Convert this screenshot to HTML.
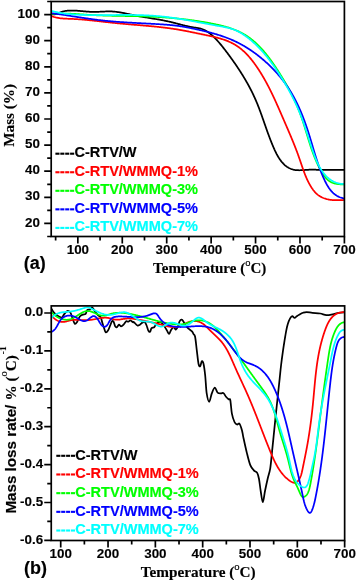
<!DOCTYPE html><html><head><meta charset="utf-8"><style>html,body{margin:0;padding:0;background:#fff;}svg{display:block;will-change:transform;}text{stroke:#000;stroke-width:0.15px;}.t{stroke-width:0.12px;}.s{font-family:"Liberation Sans",sans-serif;font-weight:bold;}.r{font-family:"Liberation Serif",serif;font-weight:bold;}</style></head><body>
<svg width="357" height="580" viewBox="0 0 357 580">
<rect x="0" y="0" width="357" height="580" fill="#fff"/>
<clipPath id="ca"><rect x="51.20" y="1.50" width="293.20" height="235.00"/></clipPath>
<g clip-path="url(#ca)" fill="none" stroke-width="1.75" stroke-linejoin="round" stroke-linecap="round">
<path d="M51.43,13.83 L52.12,14.08 L52.81,14.24 L53.48,14.32 L54.14,14.34 L54.80,14.28 L55.45,14.17 L56.09,14.02 L56.74,13.82 L57.37,13.59 L58.01,13.34 L58.65,13.08 L59.29,12.80 L59.94,12.53 L60.58,12.26 L61.24,12.01 L61.90,11.79 L62.57,11.59 L63.24,11.41 L63.92,11.25 L64.61,11.11 L65.29,10.99 L65.98,10.89 L66.68,10.80 L67.37,10.73 L68.07,10.67 L68.77,10.62 L69.46,10.58 L70.16,10.56 L70.86,10.54 L71.56,10.53 L72.25,10.53 L72.95,10.54 L73.65,10.56 L74.35,10.58 L75.05,10.61 L75.74,10.65 L76.44,10.69 L77.14,10.74 L77.84,10.79 L78.54,10.84 L79.24,10.90 L79.94,10.96 L80.64,11.02 L81.34,11.09 L82.04,11.15 L82.74,11.22 L83.44,11.28 L84.14,11.35 L84.84,11.41 L85.54,11.47 L86.24,11.53 L86.94,11.59 L87.64,11.65 L88.34,11.70 L89.04,11.74 L89.74,11.78 L90.44,11.82 L91.15,11.85 L91.85,11.87 L92.55,11.88 L93.25,11.89 L93.95,11.89 L94.65,11.89 L95.35,11.88 L96.05,11.87 L96.75,11.85 L97.46,11.83 L98.16,11.80 L98.86,11.78 L99.56,11.75 L100.26,11.72 L100.96,11.68 L101.66,11.65 L102.36,11.62 L103.06,11.59 L103.76,11.56 L104.45,11.53 L105.15,11.50 L105.85,11.48 L106.55,11.46 L107.24,11.45 L107.94,11.44 L108.64,11.43 L109.33,11.43 L110.03,11.43 L110.72,11.45 L111.42,11.47 L112.11,11.49 L112.80,11.53 L113.49,11.57 L114.18,11.62 L114.87,11.69 L115.56,11.75 L116.25,11.83 L116.94,11.92 L117.63,12.01 L118.32,12.10 L119.00,12.21 L119.69,12.31 L120.38,12.43 L121.06,12.55 L121.75,12.67 L122.44,12.80 L123.12,12.93 L123.81,13.07 L124.49,13.20 L125.18,13.35 L125.86,13.49 L126.55,13.63 L127.23,13.78 L127.92,13.93 L128.60,14.08 L129.29,14.23 L129.97,14.38 L130.66,14.53 L131.35,14.68 L132.03,14.82 L132.72,14.97 L133.40,15.12 L134.09,15.26 L134.78,15.40 L135.47,15.54 L136.16,15.67 L136.84,15.81 L137.53,15.94 L138.22,16.07 L138.91,16.19 L139.60,16.32 L140.29,16.45 L140.98,16.57 L141.67,16.69 L142.36,16.81 L143.05,16.93 L143.74,17.05 L144.43,17.17 L145.12,17.28 L145.81,17.40 L146.50,17.51 L147.19,17.63 L147.89,17.74 L148.58,17.86 L149.27,17.97 L149.96,18.08 L150.65,18.20 L151.34,18.31 L152.03,18.43 L152.72,18.54 L153.41,18.65 L154.10,18.77 L154.79,18.89 L155.48,19.00 L156.17,19.12 L156.86,19.24 L157.54,19.36 L158.23,19.48 L158.92,19.60 L159.61,19.72 L160.30,19.85 L160.98,19.97 L161.67,20.10 L162.36,20.23 L163.04,20.36 L163.73,20.50 L164.41,20.63 L165.10,20.77 L165.78,20.91 L166.46,21.05 L167.15,21.20 L167.83,21.35 L168.51,21.50 L169.19,21.65 L169.87,21.81 L170.55,21.97 L171.23,22.13 L171.91,22.29 L172.58,22.46 L173.26,22.63 L173.94,22.80 L174.61,22.97 L175.29,23.15 L175.97,23.32 L176.64,23.50 L177.32,23.68 L178.00,23.85 L178.67,24.03 L179.35,24.21 L180.02,24.38 L180.70,24.56 L181.38,24.73 L182.06,24.91 L182.73,25.08 L183.41,25.25 L184.09,25.42 L184.77,25.58 L185.45,25.75 L186.13,25.91 L186.81,26.07 L187.50,26.22 L188.18,26.37 L188.86,26.52 L189.55,26.66 L190.24,26.80 L190.92,26.94 L191.61,27.07 L192.30,27.19 L193.00,27.31 L193.69,27.43 L194.38,27.54 L195.08,27.64 L195.78,27.74 L196.48,27.83 L197.17,27.93 L197.87,28.03 L198.56,28.14 L199.24,28.27 L199.92,28.41 L200.60,28.57 L201.26,28.76 L201.92,28.97 L202.57,29.20 L203.21,29.45 L203.84,29.73 L204.46,30.02 L205.08,30.33 L205.69,30.66 L206.29,31.01 L206.88,31.37 L207.47,31.75 L208.05,32.14 L208.62,32.55 L209.19,32.97 L209.75,33.40 L210.30,33.84 L210.84,34.29 L211.38,34.75 L211.92,35.22 L212.44,35.70 L212.96,36.18 L213.48,36.67 L213.99,37.16 L214.49,37.66 L214.99,38.16 L215.48,38.67 L215.97,39.17 L216.45,39.68 L216.93,40.19 L217.40,40.71 L217.87,41.22 L218.33,41.74 L218.79,42.26 L219.24,42.79 L219.70,43.31 L220.14,43.84 L220.59,44.37 L221.03,44.90 L221.47,45.43 L221.91,45.97 L222.34,46.51 L222.77,47.05 L223.20,47.59 L223.63,48.13 L224.05,48.68 L224.47,49.22 L224.90,49.77 L225.32,50.32 L225.74,50.87 L226.16,51.42 L226.57,51.97 L226.99,52.53 L227.41,53.08 L227.83,53.64 L228.24,54.20 L228.66,54.76 L229.07,55.32 L229.48,55.88 L229.90,56.44 L230.31,57.00 L230.72,57.57 L231.13,58.14 L231.54,58.70 L231.95,59.27 L232.36,59.84 L232.76,60.41 L233.17,60.98 L233.57,61.56 L233.97,62.13 L234.38,62.71 L234.78,63.29 L235.18,63.86 L235.58,64.44 L235.97,65.02 L236.37,65.60 L236.76,66.19 L237.16,66.77 L237.55,67.36 L237.94,67.94 L238.33,68.53 L238.72,69.12 L239.10,69.71 L239.49,70.30 L239.87,70.89 L240.25,71.48 L240.63,72.07 L241.01,72.67 L241.39,73.26 L241.76,73.86 L242.14,74.46 L242.51,75.06 L242.88,75.66 L243.25,76.26 L243.61,76.86 L243.98,77.46 L244.34,78.07 L244.70,78.67 L245.06,79.28 L245.41,79.89 L245.77,80.49 L246.12,81.10 L246.47,81.71 L246.82,82.32 L247.17,82.94 L247.51,83.55 L247.85,84.16 L248.19,84.78 L248.53,85.39 L248.87,86.01 L249.20,86.63 L249.53,87.25 L249.86,87.87 L250.19,88.49 L250.51,89.11 L250.83,89.73 L251.15,90.36 L251.46,90.98 L251.78,91.61 L252.09,92.23 L252.40,92.86 L252.70,93.49 L253.01,94.12 L253.31,94.75 L253.61,95.38 L253.90,96.01 L254.19,96.64 L254.48,97.27 L254.77,97.91 L255.05,98.54 L255.33,99.18 L255.61,99.82 L255.89,100.45 L256.16,101.09 L256.43,101.73 L256.70,102.37 L256.96,103.01 L257.23,103.65 L257.49,104.30 L257.75,104.94 L258.00,105.58 L258.26,106.23 L258.51,106.87 L258.76,107.52 L259.01,108.16 L259.25,108.81 L259.50,109.46 L259.74,110.11 L259.98,110.76 L260.23,111.41 L260.46,112.06 L260.70,112.71 L260.94,113.36 L261.18,114.01 L261.41,114.66 L261.64,115.32 L261.88,115.97 L262.11,116.62 L262.34,117.28 L262.57,117.93 L262.80,118.59 L263.03,119.24 L263.26,119.90 L263.49,120.55 L263.72,121.21 L263.95,121.87 L264.18,122.53 L264.41,123.18 L264.64,123.84 L264.87,124.50 L265.10,125.16 L265.33,125.82 L265.56,126.48 L265.79,127.14 L266.02,127.80 L266.25,128.46 L266.49,129.12 L266.72,129.78 L266.95,130.44 L267.19,131.10 L267.43,131.76 L267.66,132.42 L267.90,133.08 L268.14,133.74 L268.39,134.40 L268.63,135.07 L268.87,135.73 L269.12,136.39 L269.37,137.05 L269.62,137.71 L269.87,138.37 L270.12,139.04 L270.38,139.70 L270.64,140.36 L270.90,141.02 L271.16,141.68 L271.42,142.35 L271.69,143.01 L271.96,143.67 L272.23,144.33 L272.51,144.99 L272.79,145.65 L273.07,146.31 L273.35,146.97 L273.64,147.63 L273.93,148.29 L274.22,148.95 L274.51,149.61 L274.82,150.26 L275.12,150.92 L275.43,151.56 L275.74,152.21 L276.06,152.85 L276.39,153.49 L276.71,154.12 L277.05,154.75 L277.39,155.37 L277.74,155.99 L278.09,156.59 L278.45,157.19 L278.81,157.79 L279.19,158.37 L279.57,158.95 L279.95,159.52 L280.35,160.08 L280.75,160.63 L281.16,161.16 L281.58,161.69 L282.01,162.21 L282.44,162.71 L282.89,163.20 L283.34,163.68 L283.81,164.15 L284.28,164.60 L284.76,165.04 L285.26,165.47 L285.76,165.88 L286.28,166.27 L286.80,166.65 L287.34,167.01 L287.89,167.35 L288.45,167.68 L289.02,167.99 L289.60,168.28 L290.20,168.56 L290.80,168.81 L291.42,169.05 L292.06,169.26 L292.70,169.45 L293.36,169.63 L294.04,169.78 L294.72,169.91 L295.42,170.02 L296.14,170.10 L296.87,170.17 L297.60,170.21 L298.35,170.24 L299.11,170.26 L299.87,170.25 L300.64,170.24 L301.41,170.22 L302.19,170.18 L302.97,170.14 L303.74,170.10 L304.52,170.05 L305.29,169.99 L306.06,169.94 L306.82,169.88 L307.58,169.83 L308.33,169.78 L309.07,169.74 L309.79,169.70 L310.51,169.67 L311.21,169.66 L311.90,169.65 L312.58,169.65 L313.25,169.65 L313.91,169.67 L314.57,169.68 L315.22,169.71 L315.86,169.73 L316.51,169.76 L317.15,169.79 L317.80,169.82 L318.44,169.85 L319.09,169.88 L319.75,169.90 L320.41,169.93 L321.08,169.95 L321.75,169.96 L322.43,169.97 L323.12,169.98 L323.81,169.99 L324.51,169.99 L325.21,169.99 L325.91,169.99 L326.62,169.99 L327.33,169.99 L328.05,169.98 L328.76,169.97 L329.48,169.96 L330.20,169.96 L330.92,169.95 L331.64,169.94 L332.36,169.92 L333.08,169.91 L333.81,169.90 L334.53,169.89 L335.25,169.88 L335.96,169.87 L336.68,169.87 L337.39,169.86 L338.10,169.85 L338.81,169.85 L339.51,169.85 L340.21,169.85 L340.91,169.85 L341.60,169.85 L342.29,169.86 L342.97,169.87 L343.64,169.88 L344.31,169.89 L344.97,169.91" stroke="#000000"/>
<path d="M51.31,15.80 L51.94,16.09 L52.57,16.35 L53.21,16.60 L53.85,16.83 L54.49,17.04 L55.15,17.23 L55.80,17.41 L56.46,17.57 L57.13,17.72 L57.80,17.86 L58.47,17.98 L59.15,18.09 L59.83,18.19 L60.51,18.27 L61.20,18.35 L61.88,18.42 L62.58,18.48 L63.27,18.54 L63.96,18.58 L64.66,18.63 L65.36,18.66 L66.06,18.70 L66.76,18.73 L67.46,18.75 L68.17,18.78 L68.87,18.80 L69.57,18.83 L70.28,18.85 L70.98,18.88 L71.68,18.90 L72.39,18.93 L73.09,18.97 L73.79,19.00 L74.49,19.04 L75.19,19.08 L75.89,19.12 L76.59,19.16 L77.29,19.20 L77.99,19.25 L78.69,19.30 L79.39,19.35 L80.09,19.40 L80.78,19.45 L81.48,19.50 L82.18,19.56 L82.88,19.62 L83.57,19.67 L84.27,19.73 L84.96,19.80 L85.66,19.86 L86.36,19.92 L87.05,19.99 L87.75,20.05 L88.44,20.12 L89.14,20.19 L89.83,20.26 L90.53,20.33 L91.22,20.40 L91.91,20.47 L92.61,20.54 L93.30,20.61 L94.00,20.69 L94.69,20.76 L95.38,20.84 L96.08,20.91 L96.77,20.99 L97.46,21.07 L98.16,21.14 L98.85,21.22 L99.54,21.30 L100.24,21.38 L100.93,21.46 L101.62,21.53 L102.31,21.61 L103.01,21.69 L103.70,21.77 L104.39,21.85 L105.09,21.93 L105.78,22.01 L106.47,22.08 L107.17,22.16 L107.86,22.24 L108.56,22.32 L109.25,22.40 L109.94,22.47 L110.64,22.55 L111.33,22.63 L112.03,22.70 L112.72,22.78 L113.41,22.85 L114.11,22.92 L114.80,23.00 L115.50,23.07 L116.20,23.14 L116.89,23.21 L117.59,23.28 L118.28,23.35 L118.98,23.42 L119.68,23.48 L120.37,23.55 L121.07,23.62 L121.77,23.68 L122.47,23.75 L123.16,23.81 L123.86,23.87 L124.56,23.93 L125.26,24.00 L125.96,24.06 L126.65,24.12 L127.35,24.18 L128.05,24.24 L128.75,24.30 L129.45,24.36 L130.15,24.42 L130.85,24.48 L131.54,24.54 L132.24,24.59 L132.94,24.65 L133.64,24.71 L134.34,24.77 L135.04,24.83 L135.74,24.88 L136.44,24.94 L137.14,25.00 L137.84,25.06 L138.54,25.11 L139.23,25.17 L139.93,25.23 L140.63,25.29 L141.33,25.35 L142.03,25.41 L142.73,25.46 L143.43,25.52 L144.13,25.58 L144.83,25.64 L145.52,25.70 L146.22,25.76 L146.92,25.83 L147.62,25.89 L148.32,25.95 L149.01,26.01 L149.71,26.08 L150.41,26.14 L151.11,26.20 L151.80,26.27 L152.50,26.34 L153.20,26.40 L153.89,26.47 L154.59,26.54 L155.28,26.61 L155.98,26.68 L156.67,26.75 L157.37,26.82 L158.06,26.89 L158.76,26.97 L159.45,27.04 L160.15,27.12 L160.84,27.19 L161.53,27.27 L162.23,27.35 L162.92,27.43 L163.61,27.51 L164.30,27.60 L164.99,27.68 L165.69,27.77 L166.38,27.86 L167.07,27.94 L167.76,28.03 L168.45,28.12 L169.14,28.22 L169.82,28.31 L170.51,28.41 L171.20,28.51 L171.89,28.60 L172.57,28.70 L173.26,28.81 L173.95,28.91 L174.63,29.02 L175.32,29.12 L176.00,29.23 L176.69,29.35 L177.37,29.46 L178.05,29.57 L178.74,29.69 L179.42,29.81 L180.10,29.93 L180.78,30.05 L181.46,30.17 L182.14,30.30 L182.82,30.42 L183.50,30.55 L184.18,30.68 L184.86,30.81 L185.54,30.94 L186.22,31.07 L186.90,31.21 L187.58,31.34 L188.27,31.48 L188.95,31.61 L189.63,31.75 L190.31,31.89 L190.99,32.03 L191.67,32.17 L192.35,32.31 L193.03,32.45 L193.72,32.59 L194.40,32.73 L195.08,32.87 L195.77,33.01 L196.45,33.16 L197.14,33.30 L197.82,33.44 L198.51,33.58 L199.20,33.73 L199.89,33.87 L200.57,34.01 L201.26,34.16 L201.96,34.30 L202.65,34.44 L203.34,34.58 L204.03,34.72 L204.73,34.87 L205.42,35.01 L206.12,35.15 L206.81,35.30 L207.51,35.44 L208.20,35.59 L208.89,35.74 L209.59,35.89 L210.28,36.04 L210.98,36.19 L211.67,36.35 L212.36,36.50 L213.05,36.66 L213.74,36.83 L214.43,36.99 L215.12,37.16 L215.81,37.33 L216.49,37.51 L217.17,37.68 L217.86,37.87 L218.54,38.05 L219.21,38.24 L219.89,38.43 L220.56,38.63 L221.23,38.84 L221.90,39.04 L222.57,39.26 L223.23,39.47 L223.89,39.70 L224.55,39.92 L225.20,40.16 L225.86,40.40 L226.50,40.64 L227.15,40.90 L227.79,41.15 L228.43,41.42 L229.06,41.69 L229.69,41.97 L230.32,42.25 L230.94,42.55 L231.55,42.85 L232.17,43.15 L232.77,43.47 L233.38,43.79 L233.98,44.12 L234.57,44.46 L235.16,44.81 L235.74,45.17 L236.32,45.54 L236.90,45.91 L237.46,46.29 L238.03,46.68 L238.59,47.08 L239.14,47.49 L239.69,47.90 L240.23,48.32 L240.77,48.75 L241.31,49.19 L241.84,49.63 L242.36,50.08 L242.88,50.54 L243.40,51.00 L243.91,51.47 L244.41,51.95 L244.92,52.43 L245.42,52.92 L245.91,53.41 L246.40,53.91 L246.88,54.41 L247.37,54.92 L247.84,55.44 L248.32,55.96 L248.78,56.48 L249.25,57.01 L249.71,57.55 L250.17,58.08 L250.62,58.63 L251.07,59.17 L251.52,59.72 L251.96,60.28 L252.40,60.83 L252.83,61.40 L253.26,61.96 L253.69,62.53 L254.11,63.10 L254.53,63.67 L254.95,64.24 L255.37,64.82 L255.78,65.40 L256.18,65.98 L256.59,66.57 L256.99,67.15 L257.39,67.74 L257.78,68.33 L258.17,68.92 L258.56,69.51 L258.95,70.10 L259.33,70.69 L259.71,71.29 L260.09,71.88 L260.46,72.48 L260.83,73.08 L261.20,73.67 L261.57,74.27 L261.93,74.88 L262.30,75.48 L262.65,76.08 L263.01,76.68 L263.36,77.29 L263.72,77.89 L264.06,78.50 L264.41,79.11 L264.75,79.72 L265.10,80.33 L265.44,80.94 L265.77,81.55 L266.11,82.16 L266.44,82.77 L266.77,83.39 L267.10,84.00 L267.43,84.62 L267.75,85.23 L268.08,85.85 L268.40,86.47 L268.72,87.09 L269.04,87.71 L269.35,88.33 L269.67,88.95 L269.98,89.57 L270.29,90.19 L270.60,90.81 L270.91,91.44 L271.21,92.06 L271.52,92.69 L271.82,93.31 L272.12,93.94 L272.42,94.57 L272.72,95.19 L273.02,95.82 L273.32,96.45 L273.61,97.08 L273.91,97.71 L274.20,98.34 L274.49,98.97 L274.78,99.60 L275.07,100.23 L275.36,100.87 L275.65,101.50 L275.94,102.13 L276.22,102.77 L276.51,103.40 L276.79,104.03 L277.08,104.67 L277.36,105.30 L277.64,105.94 L277.93,106.58 L278.21,107.21 L278.49,107.85 L278.77,108.49 L279.05,109.12 L279.33,109.76 L279.61,110.40 L279.89,111.04 L280.16,111.67 L280.44,112.31 L280.72,112.95 L281.00,113.59 L281.28,114.23 L281.55,114.87 L281.83,115.51 L282.11,116.15 L282.39,116.79 L282.66,117.43 L282.94,118.07 L283.22,118.71 L283.50,119.35 L283.77,119.99 L284.05,120.63 L284.33,121.27 L284.61,121.91 L284.89,122.55 L285.17,123.19 L285.44,123.83 L285.72,124.48 L286.00,125.12 L286.28,125.76 L286.56,126.40 L286.83,127.04 L287.11,127.68 L287.39,128.33 L287.67,128.97 L287.94,129.61 L288.22,130.25 L288.49,130.90 L288.77,131.54 L289.04,132.19 L289.32,132.83 L289.59,133.47 L289.87,134.12 L290.14,134.76 L290.41,135.41 L290.68,136.05 L290.95,136.70 L291.23,137.35 L291.49,137.99 L291.76,138.64 L292.03,139.29 L292.30,139.93 L292.56,140.58 L292.83,141.23 L293.09,141.88 L293.36,142.53 L293.62,143.18 L293.88,143.83 L294.14,144.48 L294.40,145.13 L294.66,145.78 L294.92,146.43 L295.17,147.08 L295.43,147.73 L295.68,148.39 L295.93,149.04 L296.18,149.69 L296.43,150.35 L296.68,151.00 L296.93,151.66 L297.17,152.32 L297.42,152.97 L297.66,153.63 L297.90,154.29 L298.14,154.94 L298.38,155.60 L298.61,156.26 L298.84,156.92 L299.08,157.58 L299.31,158.24 L299.54,158.91 L299.76,159.57 L299.99,160.23 L300.22,160.89 L300.44,161.56 L300.66,162.22 L300.89,162.88 L301.11,163.55 L301.34,164.21 L301.56,164.87 L301.79,165.54 L302.01,166.20 L302.24,166.86 L302.47,167.52 L302.70,168.19 L302.93,168.85 L303.16,169.51 L303.39,170.17 L303.63,170.82 L303.87,171.48 L304.12,172.14 L304.36,172.79 L304.61,173.45 L304.86,174.10 L305.12,174.75 L305.38,175.40 L305.65,176.05 L305.92,176.70 L306.19,177.34 L306.47,177.99 L306.75,178.63 L307.04,179.27 L307.34,179.91 L307.64,180.55 L307.94,181.18 L308.25,181.81 L308.57,182.44 L308.90,183.07 L309.23,183.69 L309.57,184.31 L309.92,184.93 L310.27,185.55 L310.63,186.16 L311.00,186.76 L311.38,187.36 L311.77,187.95 L312.16,188.53 L312.57,189.10 L312.98,189.67 L313.40,190.22 L313.84,190.77 L314.28,191.30 L314.73,191.82 L315.19,192.33 L315.67,192.82 L316.15,193.31 L316.65,193.77 L317.15,194.22 L317.67,194.66 L318.20,195.08 L318.74,195.48 L319.29,195.86 L319.86,196.22 L320.44,196.57 L321.03,196.89 L321.63,197.20 L322.24,197.49 L322.86,197.77 L323.49,198.03 L324.12,198.27 L324.77,198.49 L325.43,198.70 L326.09,198.90 L326.76,199.08 L327.43,199.24 L328.12,199.39 L328.80,199.53 L329.50,199.66 L330.19,199.77 L330.90,199.86 L331.60,199.95 L332.31,200.02 L333.02,200.08 L333.74,200.13 L334.46,200.17 L335.17,200.20 L335.89,200.21 L336.61,200.23 L337.33,200.23 L338.05,200.22 L338.76,200.21 L339.48,200.19 L340.19,200.17 L340.90,200.14 L341.60,200.11 L342.30,200.08 L342.99,200.04 L343.68,200.00 L344.37,199.96 L345.04,199.92" stroke="#ff0000"/>
<path d="M51.36,14.01 L52.05,13.94 L52.75,13.88 L53.44,13.83 L54.14,13.78 L54.84,13.73 L55.53,13.69 L56.23,13.66 L56.93,13.63 L57.62,13.60 L58.32,13.58 L59.01,13.56 L59.71,13.54 L60.40,13.53 L61.10,13.52 L61.80,13.52 L62.49,13.51 L63.19,13.52 L63.88,13.52 L64.58,13.53 L65.27,13.54 L65.97,13.56 L66.66,13.57 L67.36,13.59 L68.05,13.61 L68.75,13.64 L69.44,13.66 L70.14,13.69 L70.83,13.72 L71.53,13.76 L72.23,13.79 L72.92,13.83 L73.62,13.86 L74.31,13.90 L75.01,13.94 L75.70,13.98 L76.40,14.03 L77.09,14.07 L77.79,14.12 L78.48,14.16 L79.18,14.21 L79.88,14.25 L80.57,14.30 L81.27,14.35 L81.96,14.40 L82.66,14.44 L83.36,14.49 L84.05,14.54 L84.75,14.59 L85.45,14.63 L86.14,14.68 L86.84,14.73 L87.54,14.77 L88.24,14.82 L88.93,14.86 L89.63,14.90 L90.33,14.94 L91.03,14.98 L91.72,15.02 L92.42,15.06 L93.12,15.10 L93.82,15.13 L94.52,15.17 L95.22,15.20 L95.92,15.23 L96.61,15.27 L97.31,15.30 L98.01,15.33 L98.71,15.35 L99.41,15.38 L100.11,15.41 L100.81,15.44 L101.51,15.46 L102.21,15.49 L102.91,15.51 L103.61,15.53 L104.31,15.55 L105.01,15.58 L105.71,15.60 L106.41,15.62 L107.11,15.64 L107.81,15.66 L108.51,15.67 L109.21,15.69 L109.91,15.71 L110.61,15.73 L111.31,15.74 L112.02,15.76 L112.72,15.77 L113.42,15.79 L114.12,15.80 L114.82,15.82 L115.52,15.83 L116.22,15.85 L116.92,15.86 L117.62,15.87 L118.32,15.89 L119.02,15.90 L119.72,15.91 L120.43,15.92 L121.13,15.94 L121.83,15.95 L122.53,15.96 L123.23,15.97 L123.93,15.98 L124.63,16.00 L125.33,16.01 L126.03,16.02 L126.73,16.03 L127.43,16.04 L128.13,16.06 L128.83,16.07 L129.53,16.08 L130.23,16.09 L130.93,16.11 L131.63,16.12 L132.33,16.13 L133.03,16.15 L133.73,16.16 L134.43,16.18 L135.13,16.19 L135.83,16.20 L136.53,16.22 L137.23,16.24 L137.93,16.25 L138.63,16.27 L139.33,16.29 L140.02,16.30 L140.72,16.32 L141.42,16.34 L142.12,16.36 L142.82,16.38 L143.52,16.40 L144.21,16.42 L144.91,16.45 L145.61,16.47 L146.31,16.49 L147.00,16.52 L147.70,16.54 L148.40,16.57 L149.09,16.60 L149.79,16.62 L150.49,16.65 L151.18,16.68 L151.88,16.71 L152.57,16.75 L153.27,16.78 L153.97,16.81 L154.66,16.85 L155.36,16.88 L156.05,16.92 L156.74,16.95 L157.44,16.99 L158.13,17.03 L158.83,17.07 L159.52,17.11 L160.22,17.15 L160.91,17.20 L161.60,17.24 L162.30,17.29 L162.99,17.33 L163.68,17.38 L164.38,17.43 L165.07,17.48 L165.76,17.53 L166.46,17.58 L167.15,17.63 L167.84,17.69 L168.53,17.74 L169.23,17.80 L169.92,17.85 L170.61,17.91 L171.30,17.97 L172.00,18.03 L172.69,18.09 L173.38,18.15 L174.07,18.22 L174.76,18.28 L175.46,18.35 L176.15,18.41 L176.84,18.48 L177.53,18.55 L178.22,18.62 L178.92,18.69 L179.61,18.76 L180.30,18.84 L180.99,18.91 L181.68,18.99 L182.38,19.07 L183.07,19.15 L183.76,19.23 L184.45,19.31 L185.14,19.39 L185.83,19.47 L186.53,19.56 L187.22,19.64 L187.91,19.73 L188.60,19.82 L189.29,19.91 L189.99,20.00 L190.68,20.09 L191.37,20.19 L192.06,20.28 L192.76,20.38 L193.45,20.47 L194.14,20.57 L194.83,20.67 L195.53,20.78 L196.22,20.88 L196.91,20.98 L197.60,21.09 L198.30,21.20 L198.99,21.30 L199.68,21.41 L200.38,21.52 L201.07,21.64 L201.76,21.75 L202.46,21.87 L203.15,21.98 L203.85,22.10 L204.54,22.22 L205.23,22.34 L205.93,22.46 L206.62,22.59 L207.32,22.71 L208.01,22.84 L208.71,22.97 L209.40,23.10 L210.10,23.23 L210.79,23.36 L211.49,23.50 L212.19,23.63 L212.88,23.77 L213.58,23.91 L214.27,24.05 L214.97,24.19 L215.66,24.34 L216.35,24.49 L217.05,24.64 L217.74,24.79 L218.43,24.95 L219.12,25.11 L219.81,25.27 L220.50,25.43 L221.19,25.60 L221.88,25.77 L222.56,25.94 L223.25,26.12 L223.93,26.30 L224.61,26.48 L225.29,26.67 L225.96,26.86 L226.64,27.06 L227.31,27.26 L227.99,27.46 L228.66,27.67 L229.32,27.88 L229.99,28.10 L230.65,28.32 L231.31,28.54 L231.97,28.77 L232.63,29.01 L233.28,29.25 L233.93,29.49 L234.58,29.74 L235.22,30.00 L235.86,30.26 L236.50,30.52 L237.13,30.79 L237.77,31.07 L238.39,31.35 L239.02,31.64 L239.64,31.94 L240.26,32.24 L240.87,32.54 L241.48,32.86 L242.09,33.17 L242.69,33.50 L243.29,33.83 L243.88,34.17 L244.47,34.52 L245.06,34.87 L245.64,35.23 L246.22,35.59 L246.79,35.96 L247.36,36.34 L247.93,36.72 L248.49,37.11 L249.05,37.51 L249.60,37.91 L250.15,38.32 L250.70,38.73 L251.24,39.15 L251.78,39.57 L252.32,40.00 L252.85,40.44 L253.38,40.88 L253.90,41.32 L254.42,41.77 L254.94,42.23 L255.45,42.69 L255.97,43.16 L256.47,43.63 L256.98,44.10 L257.48,44.58 L257.97,45.06 L258.47,45.55 L258.96,46.05 L259.45,46.54 L259.93,47.04 L260.41,47.55 L260.89,48.06 L261.37,48.57 L261.84,49.09 L262.31,49.61 L262.78,50.13 L263.24,50.66 L263.70,51.19 L264.16,51.72 L264.61,52.26 L265.06,52.80 L265.51,53.35 L265.96,53.89 L266.41,54.44 L266.85,55.00 L267.29,55.55 L267.72,56.11 L268.16,56.67 L268.59,57.23 L269.02,57.80 L269.44,58.37 L269.87,58.94 L270.29,59.51 L270.71,60.08 L271.13,60.66 L271.54,61.24 L271.96,61.82 L272.37,62.40 L272.78,62.98 L273.18,63.57 L273.59,64.15 L273.99,64.74 L274.39,65.33 L274.79,65.92 L275.19,66.51 L275.58,67.10 L275.97,67.70 L276.36,68.29 L276.75,68.89 L277.14,69.48 L277.53,70.08 L277.91,70.67 L278.29,71.27 L278.68,71.87 L279.06,72.46 L279.43,73.06 L279.81,73.66 L280.18,74.26 L280.56,74.86 L280.93,75.45 L281.30,76.05 L281.67,76.65 L282.03,77.25 L282.40,77.85 L282.76,78.45 L283.12,79.05 L283.48,79.65 L283.84,80.26 L284.20,80.86 L284.55,81.46 L284.91,82.06 L285.26,82.67 L285.61,83.27 L285.95,83.88 L286.30,84.48 L286.64,85.09 L286.99,85.69 L287.33,86.30 L287.66,86.91 L288.00,87.51 L288.33,88.12 L288.67,88.73 L289.00,89.34 L289.33,89.95 L289.65,90.56 L289.98,91.18 L290.30,91.79 L290.62,92.40 L290.94,93.02 L291.25,93.63 L291.57,94.25 L291.88,94.87 L292.19,95.49 L292.50,96.10 L292.81,96.72 L293.11,97.34 L293.41,97.97 L293.71,98.59 L294.01,99.21 L294.30,99.84 L294.60,100.46 L294.89,101.09 L295.18,101.72 L295.46,102.34 L295.75,102.97 L296.03,103.60 L296.31,104.24 L296.59,104.87 L296.86,105.50 L297.13,106.14 L297.40,106.78 L297.67,107.41 L297.94,108.05 L298.20,108.69 L298.46,109.33 L298.72,109.98 L298.98,110.62 L299.23,111.26 L299.48,111.91 L299.73,112.56 L299.97,113.21 L300.22,113.86 L300.46,114.51 L300.70,115.16 L300.93,115.82 L301.17,116.47 L301.40,117.13 L301.63,117.79 L301.86,118.45 L302.08,119.11 L302.31,119.77 L302.53,120.43 L302.75,121.10 L302.97,121.76 L303.18,122.43 L303.40,123.09 L303.61,123.76 L303.83,124.43 L304.04,125.10 L304.25,125.77 L304.46,126.44 L304.67,127.11 L304.88,127.78 L305.08,128.45 L305.29,129.12 L305.49,129.80 L305.70,130.47 L305.90,131.14 L306.11,131.81 L306.31,132.49 L306.52,133.16 L306.72,133.84 L306.93,134.51 L307.13,135.18 L307.34,135.86 L307.54,136.53 L307.75,137.21 L307.95,137.88 L308.16,138.55 L308.37,139.23 L308.57,139.90 L308.78,140.57 L308.99,141.24 L309.20,141.92 L309.41,142.59 L309.63,143.26 L309.84,143.93 L310.06,144.60 L310.27,145.27 L310.49,145.94 L310.71,146.60 L310.93,147.27 L311.16,147.94 L311.38,148.60 L311.61,149.27 L311.84,149.93 L312.07,150.59 L312.30,151.25 L312.54,151.91 L312.78,152.57 L313.02,153.23 L313.26,153.89 L313.51,154.54 L313.76,155.20 L314.01,155.85 L314.26,156.50 L314.52,157.15 L314.78,157.80 L315.05,158.45 L315.32,159.09 L315.59,159.73 L315.86,160.38 L316.14,161.02 L316.42,161.65 L316.70,162.29 L316.99,162.93 L317.29,163.56 L317.58,164.19 L317.88,164.82 L318.19,165.45 L318.50,166.07 L318.81,166.69 L319.13,167.31 L319.45,167.93 L319.78,168.55 L320.11,169.16 L320.45,169.77 L320.79,170.38 L321.14,170.99 L321.49,171.59 L321.84,172.20 L322.21,172.79 L322.57,173.39 L322.95,173.98 L323.33,174.56 L323.72,175.14 L324.12,175.71 L324.53,176.27 L324.95,176.81 L325.38,177.35 L325.83,177.87 L326.28,178.38 L326.75,178.88 L327.24,179.35 L327.74,179.81 L328.25,180.25 L328.78,180.67 L329.33,181.07 L329.90,181.45 L330.49,181.80 L331.10,182.13 L331.72,182.43 L332.37,182.71 L333.03,182.96 L333.71,183.19 L334.41,183.39 L335.11,183.58 L335.82,183.74 L336.54,183.88 L337.27,184.00 L338.00,184.10 L338.73,184.19 L339.46,184.25 L340.19,184.30 L340.91,184.34 L341.63,184.36 L342.33,184.37 L343.03,184.36 L343.71,184.34 L344.38,184.31 L345.03,184.27" stroke="#00ff00"/>
<path d="M51.39,13.20 L52.08,13.29 L52.77,13.37 L53.45,13.46 L54.14,13.55 L54.83,13.64 L55.52,13.73 L56.21,13.82 L56.90,13.91 L57.59,14.01 L58.27,14.10 L58.96,14.20 L59.65,14.30 L60.34,14.39 L61.03,14.49 L61.72,14.59 L62.41,14.69 L63.10,14.79 L63.78,14.90 L64.47,15.00 L65.16,15.10 L65.85,15.21 L66.54,15.31 L67.23,15.41 L67.92,15.52 L68.61,15.63 L69.30,15.73 L69.99,15.84 L70.68,15.95 L71.37,16.05 L72.06,16.16 L72.75,16.27 L73.44,16.38 L74.13,16.48 L74.82,16.59 L75.51,16.70 L76.20,16.81 L76.89,16.91 L77.58,17.02 L78.27,17.13 L78.96,17.24 L79.65,17.34 L80.34,17.45 L81.03,17.56 L81.72,17.66 L82.41,17.77 L83.11,17.87 L83.80,17.98 L84.49,18.08 L85.18,18.19 L85.87,18.29 L86.56,18.39 L87.26,18.49 L87.95,18.60 L88.64,18.70 L89.33,18.80 L90.03,18.89 L90.72,18.99 L91.41,19.09 L92.10,19.18 L92.80,19.28 L93.49,19.37 L94.18,19.47 L94.88,19.56 L95.57,19.65 L96.27,19.74 L96.96,19.82 L97.65,19.91 L98.35,20.00 L99.04,20.08 L99.74,20.16 L100.43,20.24 L101.13,20.32 L101.82,20.40 L102.52,20.48 L103.21,20.55 L103.91,20.63 L104.61,20.70 L105.30,20.77 L106.00,20.84 L106.69,20.91 L107.39,20.98 L108.09,21.04 L108.78,21.11 L109.48,21.17 L110.18,21.23 L110.88,21.30 L111.57,21.36 L112.27,21.41 L112.97,21.47 L113.67,21.53 L114.36,21.59 L115.06,21.64 L115.76,21.70 L116.46,21.75 L117.15,21.80 L117.85,21.85 L118.55,21.90 L119.25,21.95 L119.95,22.00 L120.65,22.05 L121.34,22.10 L122.04,22.15 L122.74,22.19 L123.44,22.24 L124.14,22.28 L124.84,22.33 L125.54,22.37 L126.24,22.41 L126.93,22.46 L127.63,22.50 L128.33,22.54 L129.03,22.58 L129.73,22.62 L130.43,22.66 L131.13,22.70 L131.83,22.74 L132.53,22.78 L133.22,22.81 L133.92,22.85 L134.62,22.89 L135.32,22.93 L136.02,22.96 L136.72,23.00 L137.42,23.04 L138.12,23.07 L138.82,23.11 L139.51,23.15 L140.21,23.18 L140.91,23.22 L141.61,23.26 L142.31,23.29 L143.01,23.33 L143.71,23.36 L144.40,23.40 L145.10,23.44 L145.80,23.47 L146.50,23.51 L147.20,23.54 L147.90,23.58 L148.59,23.62 L149.29,23.65 L149.99,23.69 L150.69,23.73 L151.38,23.77 L152.08,23.80 L152.78,23.84 L153.48,23.88 L154.17,23.92 L154.87,23.96 L155.57,24.00 L156.26,24.04 L156.96,24.08 L157.66,24.12 L158.35,24.16 L159.05,24.21 L159.75,24.25 L160.44,24.29 L161.14,24.34 L161.83,24.38 L162.53,24.43 L163.22,24.47 L163.92,24.52 L164.61,24.57 L165.31,24.62 L166.00,24.67 L166.70,24.73 L167.39,24.78 L168.09,24.84 L168.78,24.90 L169.47,24.96 L170.17,25.02 L170.86,25.09 L171.55,25.15 L172.24,25.22 L172.93,25.30 L173.63,25.37 L174.32,25.45 L175.01,25.53 L175.70,25.61 L176.39,25.70 L177.08,25.79 L177.77,25.88 L178.46,25.98 L179.14,26.08 L179.83,26.18 L180.52,26.29 L181.21,26.40 L181.90,26.51 L182.58,26.62 L183.27,26.73 L183.96,26.85 L184.64,26.97 L185.33,27.10 L186.02,27.22 L186.70,27.35 L187.39,27.48 L188.07,27.61 L188.76,27.74 L189.44,27.87 L190.13,28.01 L190.81,28.15 L191.50,28.29 L192.19,28.43 L192.87,28.57 L193.56,28.71 L194.24,28.86 L194.93,29.00 L195.61,29.15 L196.30,29.29 L196.98,29.44 L197.67,29.59 L198.35,29.74 L199.04,29.89 L199.72,30.04 L200.41,30.20 L201.09,30.35 L201.78,30.51 L202.46,30.67 L203.14,30.83 L203.83,30.99 L204.51,31.15 L205.19,31.31 L205.88,31.48 L206.56,31.65 L207.24,31.82 L207.92,31.99 L208.60,32.16 L209.28,32.34 L209.96,32.51 L210.64,32.69 L211.31,32.87 L211.99,33.06 L212.67,33.24 L213.34,33.43 L214.02,33.62 L214.69,33.81 L215.36,34.01 L216.04,34.21 L216.71,34.41 L217.38,34.61 L218.05,34.81 L218.71,35.02 L219.38,35.23 L220.05,35.45 L220.71,35.66 L221.37,35.88 L222.04,36.11 L222.70,36.33 L223.36,36.56 L224.01,36.79 L224.67,37.02 L225.33,37.26 L225.98,37.50 L226.63,37.75 L227.28,38.00 L227.93,38.25 L228.58,38.50 L229.23,38.76 L229.87,39.02 L230.52,39.29 L231.16,39.56 L231.80,39.83 L232.44,40.11 L233.07,40.39 L233.71,40.67 L234.34,40.96 L234.97,41.25 L235.60,41.55 L236.23,41.85 L236.85,42.15 L237.47,42.46 L238.10,42.78 L238.71,43.09 L239.33,43.41 L239.95,43.74 L240.56,44.06 L241.17,44.40 L241.78,44.73 L242.39,45.07 L243.00,45.41 L243.60,45.76 L244.20,46.11 L244.80,46.46 L245.40,46.82 L245.99,47.18 L246.59,47.55 L247.18,47.92 L247.77,48.29 L248.36,48.66 L248.94,49.04 L249.53,49.42 L250.11,49.81 L250.69,50.19 L251.27,50.59 L251.84,50.98 L252.42,51.38 L252.99,51.78 L253.56,52.18 L254.13,52.59 L254.69,53.00 L255.26,53.42 L255.82,53.83 L256.38,54.25 L256.94,54.68 L257.49,55.10 L258.05,55.53 L258.60,55.96 L259.15,56.40 L259.70,56.83 L260.24,57.27 L260.79,57.71 L261.33,58.16 L261.87,58.61 L262.40,59.06 L262.94,59.51 L263.47,59.97 L264.00,60.43 L264.53,60.89 L265.06,61.35 L265.58,61.82 L266.11,62.29 L266.63,62.76 L267.14,63.23 L267.66,63.71 L268.17,64.19 L268.68,64.67 L269.19,65.16 L269.70,65.64 L270.20,66.13 L270.70,66.62 L271.20,67.12 L271.70,67.61 L272.19,68.11 L272.68,68.61 L273.17,69.12 L273.66,69.63 L274.14,70.13 L274.62,70.65 L275.10,71.16 L275.57,71.67 L276.04,72.19 L276.51,72.71 L276.98,73.24 L277.45,73.76 L277.91,74.29 L278.37,74.82 L278.82,75.35 L279.27,75.89 L279.72,76.42 L280.17,76.96 L280.62,77.50 L281.06,78.05 L281.50,78.59 L281.93,79.14 L282.36,79.69 L282.79,80.24 L283.22,80.80 L283.64,81.35 L284.06,81.91 L284.48,82.47 L284.89,83.03 L285.30,83.60 L285.71,84.17 L286.11,84.73 L286.51,85.31 L286.91,85.88 L287.30,86.45 L287.69,87.03 L288.08,87.61 L288.46,88.19 L288.85,88.77 L289.22,89.36 L289.60,89.95 L289.97,90.54 L290.33,91.13 L290.70,91.72 L291.06,92.31 L291.41,92.91 L291.77,93.51 L292.12,94.11 L292.47,94.71 L292.81,95.32 L293.15,95.92 L293.49,96.53 L293.82,97.14 L294.16,97.75 L294.49,98.36 L294.81,98.97 L295.14,99.59 L295.46,100.21 L295.77,100.82 L296.09,101.45 L296.40,102.07 L296.71,102.69 L297.02,103.31 L297.32,103.94 L297.62,104.57 L297.92,105.20 L298.22,105.83 L298.51,106.46 L298.80,107.09 L299.09,107.73 L299.37,108.36 L299.66,109.00 L299.94,109.64 L300.22,110.28 L300.49,110.92 L300.77,111.56 L301.04,112.20 L301.31,112.85 L301.57,113.49 L301.84,114.14 L302.10,114.79 L302.36,115.43 L302.62,116.08 L302.87,116.74 L303.13,117.39 L303.38,118.04 L303.63,118.69 L303.88,119.35 L304.12,120.00 L304.37,120.66 L304.61,121.32 L304.85,121.97 L305.09,122.63 L305.32,123.29 L305.56,123.95 L305.79,124.62 L306.02,125.28 L306.25,125.94 L306.48,126.60 L306.71,127.27 L306.93,127.93 L307.15,128.60 L307.38,129.26 L307.60,129.93 L307.81,130.60 L308.03,131.27 L308.25,131.93 L308.46,132.60 L308.67,133.27 L308.89,133.94 L309.10,134.61 L309.30,135.28 L309.51,135.95 L309.72,136.62 L309.92,137.30 L310.13,137.97 L310.33,138.64 L310.54,139.31 L310.74,139.98 L310.94,140.66 L311.14,141.33 L311.34,142.00 L311.54,142.68 L311.74,143.35 L311.94,144.02 L312.14,144.70 L312.34,145.37 L312.54,146.04 L312.74,146.72 L312.94,147.39 L313.14,148.06 L313.34,148.74 L313.54,149.41 L313.74,150.08 L313.94,150.76 L314.14,151.43 L314.35,152.10 L314.55,152.77 L314.75,153.44 L314.96,154.11 L315.16,154.78 L315.37,155.46 L315.58,156.13 L315.79,156.79 L316.00,157.46 L316.21,158.13 L316.42,158.80 L316.64,159.47 L316.85,160.13 L317.07,160.80 L317.29,161.47 L317.51,162.13 L317.73,162.80 L317.95,163.46 L318.18,164.12 L318.41,164.78 L318.64,165.44 L318.87,166.11 L319.11,166.76 L319.34,167.42 L319.58,168.08 L319.82,168.74 L320.07,169.39 L320.32,170.05 L320.57,170.70 L320.82,171.35 L321.07,172.01 L321.33,172.66 L321.59,173.31 L321.86,173.95 L322.12,174.60 L322.40,175.25 L322.67,175.89 L322.95,176.54 L323.23,177.18 L323.51,177.82 L323.80,178.46 L324.09,179.10 L324.39,179.73 L324.68,180.37 L324.99,181.00 L325.30,181.63 L325.61,182.26 L325.93,182.88 L326.25,183.50 L326.59,184.11 L326.92,184.72 L327.27,185.32 L327.62,185.92 L327.98,186.51 L328.35,187.09 L328.72,187.66 L329.11,188.23 L329.50,188.78 L329.91,189.33 L330.32,189.86 L330.75,190.39 L331.18,190.90 L331.63,191.41 L332.09,191.90 L332.55,192.38 L333.04,192.84 L333.53,193.30 L334.04,193.73 L334.56,194.16 L335.09,194.57 L335.64,194.96 L336.20,195.34 L336.78,195.70 L337.37,196.04 L337.98,196.36 L338.60,196.67 L339.24,196.96 L339.90,197.23 L340.57,197.48 L341.26,197.71 L341.97,197.91 L342.70,198.10 L343.44,198.27 L344.20,198.41 L344.99,198.53" stroke="#0000ff"/>
<path d="M51.43,10.85 L52.12,11.04 L52.80,11.23 L53.49,11.41 L54.17,11.58 L54.86,11.75 L55.54,11.91 L56.23,12.07 L56.92,12.22 L57.61,12.37 L58.29,12.51 L58.98,12.64 L59.67,12.77 L60.36,12.90 L61.05,13.02 L61.74,13.14 L62.43,13.25 L63.12,13.35 L63.81,13.46 L64.50,13.55 L65.19,13.65 L65.88,13.74 L66.57,13.82 L67.27,13.90 L67.96,13.98 L68.65,14.05 L69.35,14.12 L70.04,14.19 L70.73,14.25 L71.43,14.31 L72.12,14.37 L72.81,14.42 L73.51,14.47 L74.20,14.52 L74.90,14.56 L75.59,14.61 L76.29,14.65 L76.98,14.68 L77.68,14.72 L78.37,14.75 L79.07,14.78 L79.77,14.81 L80.46,14.83 L81.16,14.86 L81.86,14.88 L82.55,14.90 L83.25,14.92 L83.95,14.94 L84.64,14.96 L85.34,14.97 L86.04,14.99 L86.74,15.00 L87.43,15.02 L88.13,15.03 L88.83,15.04 L89.53,15.05 L90.22,15.06 L90.92,15.06 L91.62,15.07 L92.32,15.08 L93.02,15.08 L93.71,15.09 L94.41,15.09 L95.11,15.09 L95.81,15.10 L96.51,15.10 L97.21,15.10 L97.90,15.10 L98.60,15.10 L99.30,15.10 L100.00,15.10 L100.70,15.09 L101.40,15.09 L102.10,15.09 L102.80,15.09 L103.49,15.08 L104.19,15.08 L104.89,15.08 L105.59,15.07 L106.29,15.07 L106.99,15.06 L107.69,15.06 L108.39,15.05 L109.09,15.05 L109.79,15.04 L110.49,15.04 L111.18,15.03 L111.88,15.02 L112.58,15.02 L113.28,15.01 L113.98,15.01 L114.68,15.00 L115.38,15.00 L116.08,14.99 L116.78,14.99 L117.48,14.98 L118.18,14.98 L118.88,14.97 L119.58,14.97 L120.28,14.97 L120.98,14.96 L121.67,14.96 L122.37,14.96 L123.07,14.96 L123.77,14.96 L124.47,14.96 L125.17,14.96 L125.87,14.96 L126.57,14.96 L127.27,14.96 L127.97,14.96 L128.67,14.96 L129.37,14.97 L130.06,14.97 L130.76,14.98 L131.46,14.98 L132.16,14.99 L132.86,15.00 L133.56,15.01 L134.26,15.02 L134.96,15.03 L135.65,15.04 L136.35,15.05 L137.05,15.07 L137.75,15.08 L138.45,15.10 L139.15,15.11 L139.84,15.13 L140.54,15.15 L141.24,15.17 L141.94,15.19 L142.64,15.22 L143.33,15.24 L144.03,15.27 L144.73,15.30 L145.43,15.32 L146.12,15.35 L146.82,15.39 L147.52,15.42 L148.21,15.45 L148.91,15.49 L149.61,15.53 L150.30,15.57 L151.00,15.61 L151.70,15.65 L152.39,15.70 L153.09,15.74 L153.79,15.79 L154.48,15.84 L155.18,15.89 L155.87,15.94 L156.57,16.00 L157.27,16.06 L157.96,16.12 L158.66,16.18 L159.35,16.24 L160.05,16.31 L160.74,16.37 L161.44,16.44 L162.13,16.51 L162.82,16.59 L163.52,16.66 L164.21,16.74 L164.91,16.82 L165.60,16.90 L166.29,16.98 L166.99,17.07 L167.68,17.15 L168.38,17.24 L169.07,17.33 L169.76,17.42 L170.45,17.51 L171.15,17.61 L171.84,17.70 L172.53,17.80 L173.23,17.90 L173.92,18.00 L174.61,18.10 L175.30,18.20 L175.99,18.31 L176.69,18.41 L177.38,18.52 L178.07,18.63 L178.76,18.74 L179.45,18.85 L180.15,18.96 L180.84,19.07 L181.53,19.18 L182.22,19.30 L182.91,19.41 L183.60,19.53 L184.29,19.65 L184.98,19.77 L185.67,19.89 L186.36,20.01 L187.05,20.13 L187.75,20.25 L188.44,20.37 L189.13,20.50 L189.82,20.62 L190.51,20.75 L191.20,20.87 L191.89,21.00 L192.58,21.12 L193.27,21.25 L193.96,21.38 L194.65,21.51 L195.34,21.63 L196.02,21.76 L196.71,21.89 L197.40,22.02 L198.09,22.15 L198.78,22.28 L199.47,22.41 L200.16,22.54 L200.85,22.67 L201.54,22.80 L202.23,22.93 L202.92,23.06 L203.61,23.19 L204.29,23.33 L204.98,23.46 L205.67,23.59 L206.36,23.72 L207.05,23.85 L207.74,23.98 L208.43,24.11 L209.11,24.24 L209.80,24.37 L210.49,24.50 L211.18,24.63 L211.87,24.75 L212.56,24.88 L213.24,25.01 L213.93,25.14 L214.62,25.26 L215.31,25.39 L216.00,25.52 L216.69,25.64 L217.37,25.77 L218.06,25.89 L218.75,26.01 L219.44,26.13 L220.13,26.26 L220.81,26.38 L221.50,26.50 L222.19,26.63 L222.87,26.76 L223.55,26.89 L224.24,27.02 L224.92,27.16 L225.60,27.30 L226.28,27.45 L226.96,27.60 L227.63,27.76 L228.30,27.92 L228.97,28.09 L229.64,28.27 L230.31,28.45 L230.97,28.65 L231.63,28.85 L232.29,29.06 L232.95,29.28 L233.60,29.51 L234.25,29.75 L234.89,30.01 L235.53,30.27 L236.17,30.55 L236.80,30.84 L237.43,31.13 L238.06,31.44 L238.68,31.76 L239.30,32.09 L239.91,32.43 L240.52,32.78 L241.13,33.14 L241.73,33.51 L242.33,33.88 L242.93,34.26 L243.52,34.65 L244.11,35.04 L244.69,35.45 L245.27,35.86 L245.85,36.27 L246.42,36.69 L246.99,37.11 L247.56,37.54 L248.12,37.98 L248.67,38.41 L249.23,38.85 L249.78,39.30 L250.32,39.75 L250.86,40.20 L251.40,40.65 L251.93,41.11 L252.46,41.57 L252.99,42.04 L253.51,42.51 L254.03,42.98 L254.55,43.45 L255.06,43.93 L255.57,44.41 L256.08,44.89 L256.58,45.38 L257.08,45.87 L257.58,46.36 L258.07,46.86 L258.56,47.35 L259.04,47.85 L259.53,48.36 L260.01,48.86 L260.48,49.37 L260.96,49.88 L261.43,50.40 L261.90,50.92 L262.36,51.44 L262.82,51.96 L263.28,52.48 L263.74,53.01 L264.19,53.54 L264.64,54.07 L265.09,54.60 L265.54,55.14 L265.98,55.68 L266.42,56.22 L266.86,56.76 L267.30,57.30 L267.73,57.85 L268.16,58.40 L268.59,58.95 L269.02,59.50 L269.44,60.05 L269.86,60.61 L270.28,61.17 L270.70,61.73 L271.11,62.29 L271.53,62.85 L271.94,63.42 L272.35,63.98 L272.76,64.55 L273.16,65.12 L273.56,65.69 L273.97,66.26 L274.37,66.84 L274.76,67.41 L275.16,67.99 L275.56,68.57 L275.95,69.14 L276.34,69.72 L276.73,70.31 L277.12,70.89 L277.51,71.47 L277.89,72.06 L278.27,72.64 L278.66,73.23 L279.04,73.82 L279.42,74.40 L279.80,74.99 L280.17,75.58 L280.55,76.17 L280.92,76.77 L281.30,77.36 L281.67,77.95 L282.04,78.55 L282.41,79.14 L282.78,79.74 L283.14,80.34 L283.51,80.94 L283.87,81.54 L284.23,82.14 L284.59,82.74 L284.95,83.34 L285.30,83.94 L285.66,84.55 L286.01,85.15 L286.36,85.76 L286.71,86.36 L287.06,86.97 L287.41,87.58 L287.75,88.19 L288.10,88.80 L288.44,89.41 L288.78,90.02 L289.12,90.63 L289.45,91.25 L289.79,91.86 L290.12,92.48 L290.45,93.09 L290.78,93.71 L291.11,94.33 L291.43,94.95 L291.75,95.57 L292.07,96.19 L292.39,96.81 L292.71,97.43 L293.03,98.06 L293.34,98.68 L293.65,99.31 L293.96,99.93 L294.27,100.56 L294.57,101.19 L294.88,101.82 L295.18,102.45 L295.48,103.08 L295.77,103.71 L296.07,104.34 L296.36,104.97 L296.65,105.61 L296.94,106.24 L297.23,106.88 L297.51,107.52 L297.79,108.15 L298.07,108.79 L298.35,109.43 L298.63,110.07 L298.90,110.71 L299.17,111.35 L299.44,112.00 L299.70,112.64 L299.97,113.29 L300.23,113.93 L300.49,114.58 L300.74,115.23 L301.00,115.87 L301.25,116.52 L301.50,117.17 L301.74,117.82 L301.99,118.48 L302.23,119.13 L302.47,119.78 L302.71,120.44 L302.94,121.09 L303.18,121.75 L303.41,122.40 L303.64,123.06 L303.87,123.72 L304.10,124.37 L304.32,125.03 L304.55,125.69 L304.77,126.35 L304.99,127.01 L305.21,127.67 L305.43,128.34 L305.65,129.00 L305.87,129.66 L306.09,130.32 L306.30,130.99 L306.52,131.65 L306.73,132.32 L306.95,132.98 L307.16,133.64 L307.37,134.31 L307.59,134.98 L307.80,135.64 L308.01,136.31 L308.23,136.97 L308.44,137.64 L308.65,138.31 L308.86,138.97 L309.08,139.64 L309.29,140.31 L309.51,140.98 L309.72,141.64 L309.94,142.31 L310.15,142.98 L310.37,143.65 L310.59,144.31 L310.81,144.98 L311.03,145.65 L311.25,146.32 L311.47,146.98 L311.69,147.65 L311.92,148.32 L312.14,148.99 L312.37,149.65 L312.60,150.32 L312.83,150.99 L313.06,151.65 L313.30,152.32 L313.53,152.98 L313.77,153.65 L314.01,154.31 L314.25,154.98 L314.50,155.64 L314.75,156.30 L315.00,156.96 L315.25,157.62 L315.51,158.28 L315.78,158.94 L316.04,159.59 L316.31,160.24 L316.59,160.89 L316.87,161.53 L317.16,162.17 L317.45,162.81 L317.75,163.45 L318.05,164.08 L318.36,164.71 L318.68,165.33 L319.00,165.95 L319.33,166.57 L319.66,167.18 L320.01,167.78 L320.36,168.38 L320.72,168.98 L321.09,169.57 L321.46,170.15 L321.85,170.73 L322.24,171.30 L322.64,171.87 L323.05,172.43 L323.48,172.98 L323.91,173.52 L324.35,174.06 L324.79,174.58 L325.25,175.10 L325.72,175.61 L326.20,176.10 L326.69,176.59 L327.18,177.07 L327.69,177.53 L328.21,177.98 L328.74,178.42 L329.27,178.85 L329.82,179.26 L330.38,179.66 L330.95,180.05 L331.53,180.42 L332.12,180.77 L332.72,181.11 L333.33,181.43 L333.94,181.74 L334.57,182.02 L335.21,182.29 L335.86,182.55 L336.52,182.78 L337.19,182.99 L337.86,183.19 L338.55,183.36 L339.24,183.52 L339.94,183.65 L340.65,183.77 L341.37,183.86 L342.10,183.93 L342.84,183.97 L343.58,184.00 L344.33,184.00 L345.09,183.97" stroke="#00ffff"/>
</g>
<rect x="51.20" y="1.50" width="293.20" height="235.00" fill="none" stroke="#000" stroke-width="1.70"/>
<path d="M44.20,223.44H51.20M44.20,197.33H51.20M44.20,171.22H51.20M44.20,145.11H51.20M44.20,119.00H51.20M44.20,92.89H51.20M44.20,66.78H51.20M44.20,40.67H51.20M44.20,14.56H51.20M47.20,236.50H51.20M47.20,210.39H51.20M47.20,184.28H51.20M47.20,158.17H51.20M47.20,132.06H51.20M47.20,105.94H51.20M47.20,79.83H51.20M47.20,53.72H51.20M47.20,27.61H51.20M47.20,1.50H51.20M77.85,236.50V243.50M122.28,236.50V243.50M166.70,236.50V243.50M211.13,236.50V243.50M255.55,236.50V243.50M299.98,236.50V243.50M344.40,236.50V243.50M55.64,236.50V240.50M100.07,236.50V240.50M144.49,236.50V240.50M188.92,236.50V240.50M233.34,236.50V240.50M277.76,236.50V240.50M322.19,236.50V240.50" stroke="#000" stroke-width="1.70" fill="none"/>
<text class="s t" transform="translate(39.90,226.54) scale(1.040,1)" font-size="12.90" text-anchor="end">20</text>
<text class="s t" transform="translate(39.90,200.43) scale(1.040,1)" font-size="12.90" text-anchor="end">30</text>
<text class="s t" transform="translate(39.90,174.32) scale(1.040,1)" font-size="12.90" text-anchor="end">40</text>
<text class="s t" transform="translate(39.90,148.21) scale(1.040,1)" font-size="12.90" text-anchor="end">50</text>
<text class="s t" transform="translate(39.90,122.10) scale(1.040,1)" font-size="12.90" text-anchor="end">60</text>
<text class="s t" transform="translate(39.90,95.99) scale(1.040,1)" font-size="12.90" text-anchor="end">70</text>
<text class="s t" transform="translate(39.90,69.88) scale(1.040,1)" font-size="12.90" text-anchor="end">80</text>
<text class="s t" transform="translate(39.90,43.77) scale(1.040,1)" font-size="12.90" text-anchor="end">90</text>
<text class="s t" transform="translate(39.90,17.66) scale(1.040,1)" font-size="12.90" text-anchor="end">100</text>
<text class="s t" transform="translate(77.85,254.40) scale(1.040,1)" font-size="12.90" text-anchor="middle">100</text>
<text class="s t" transform="translate(122.28,254.40) scale(1.040,1)" font-size="12.90" text-anchor="middle">200</text>
<text class="s t" transform="translate(166.70,254.40) scale(1.040,1)" font-size="12.90" text-anchor="middle">300</text>
<text class="s t" transform="translate(211.13,254.40) scale(1.040,1)" font-size="12.90" text-anchor="middle">400</text>
<text class="s t" transform="translate(255.55,254.40) scale(1.040,1)" font-size="12.90" text-anchor="middle">500</text>
<text class="s t" transform="translate(299.98,254.40) scale(1.040,1)" font-size="12.90" text-anchor="middle">600</text>
<text class="s t" transform="translate(344.40,254.40) scale(1.040,1)" font-size="12.90" text-anchor="middle">700</text>
<rect x="55.40" y="152.65" width="4.10" height="2.10" fill="#000000"/>
<rect x="60.30" y="152.65" width="4.10" height="2.10" fill="#000000"/>
<rect x="65.20" y="152.65" width="4.10" height="2.10" fill="#000000"/>
<rect x="70.10" y="152.65" width="4.10" height="2.10" fill="#000000"/>
<text class="s" transform="translate(74.40,157.00) scale(1.040,1)" font-size="14.0" fill="#000000" style="stroke:#000000">C-RTV/W</text>
<rect x="55.40" y="171.20" width="4.10" height="2.10" fill="#ff0000"/>
<rect x="60.30" y="171.20" width="4.10" height="2.10" fill="#ff0000"/>
<rect x="65.20" y="171.20" width="4.10" height="2.10" fill="#ff0000"/>
<rect x="70.10" y="171.20" width="4.10" height="2.10" fill="#ff0000"/>
<text class="s" transform="translate(74.40,175.55) scale(1.040,1)" font-size="14.0" fill="#ff0000" style="stroke:#ff0000">C-RTV/WMMQ-1%</text>
<rect x="55.40" y="189.75" width="4.10" height="2.10" fill="#00ff00"/>
<rect x="60.30" y="189.75" width="4.10" height="2.10" fill="#00ff00"/>
<rect x="65.20" y="189.75" width="4.10" height="2.10" fill="#00ff00"/>
<rect x="70.10" y="189.75" width="4.10" height="2.10" fill="#00ff00"/>
<text class="s" transform="translate(74.40,194.10) scale(1.040,1)" font-size="14.0" fill="#00ff00" style="stroke:#00ff00">C-RTV/WMMQ-3%</text>
<rect x="55.40" y="208.30" width="4.10" height="2.10" fill="#0000ff"/>
<rect x="60.30" y="208.30" width="4.10" height="2.10" fill="#0000ff"/>
<rect x="65.20" y="208.30" width="4.10" height="2.10" fill="#0000ff"/>
<rect x="70.10" y="208.30" width="4.10" height="2.10" fill="#0000ff"/>
<text class="s" transform="translate(74.40,212.65) scale(1.040,1)" font-size="14.0" fill="#0000ff" style="stroke:#0000ff">C-RTV/WMMQ-5%</text>
<rect x="55.40" y="226.85" width="4.10" height="2.10" fill="#00ffff"/>
<rect x="60.30" y="226.85" width="4.10" height="2.10" fill="#00ffff"/>
<rect x="65.20" y="226.85" width="4.10" height="2.10" fill="#00ffff"/>
<rect x="70.10" y="226.85" width="4.10" height="2.10" fill="#00ffff"/>
<text class="s" transform="translate(74.40,231.20) scale(1.040,1)" font-size="14.0" fill="#00ffff" style="stroke:#00ffff">C-RTV/WMMQ-7%</text>
<clipPath id="cb"><rect x="51.25" y="305.90" width="293.40" height="234.60"/></clipPath>
<g clip-path="url(#cb)" fill="none" stroke-width="1.75" stroke-linejoin="round" stroke-linecap="round">
<path d="M51.70,309.10 C52.12,309.73 53.08,311.70 54.20,312.90 C55.32,314.10 57.13,315.53 58.40,316.30 C59.67,317.07 60.88,317.78 61.80,317.50 C62.72,317.22 63.20,315.50 63.90,314.60 C64.60,313.70 65.30,312.73 66.00,312.10 C66.70,311.47 67.33,310.67 68.10,310.80 C68.87,310.93 69.83,311.57 70.60,312.90 C71.37,314.23 72.00,316.98 72.70,318.80 C73.40,320.62 74.10,323.23 74.80,323.80 C75.50,324.37 76.20,323.17 76.90,322.20 C77.60,321.23 78.40,319.05 79.00,318.00 C79.60,316.95 79.83,316.47 80.50,315.90 C81.17,315.33 82.15,314.95 83.00,314.60 C83.85,314.25 84.90,314.57 85.60,313.80 C86.30,313.03 86.50,310.70 87.20,310.00 C87.90,309.30 88.95,310.02 89.80,309.60 C90.65,309.18 91.47,307.23 92.30,307.50 C93.13,307.77 93.82,309.88 94.80,311.20 C95.78,312.52 97.22,314.42 98.20,315.40 C99.18,316.38 100.00,315.83 100.70,317.10 C101.40,318.37 101.83,321.17 102.40,323.00 C102.97,324.83 103.55,326.55 104.10,328.10 C104.65,329.65 105.05,331.88 105.70,332.30 C106.35,332.72 107.25,331.73 108.00,330.60 C108.75,329.47 109.55,327.05 110.20,325.50 C110.85,323.95 111.33,321.93 111.90,321.30 C112.47,320.67 113.05,320.85 113.60,321.70 C114.15,322.55 114.65,325.48 115.20,326.40 C115.75,327.32 116.27,327.48 116.90,327.20 C117.53,326.92 118.30,324.83 119.00,324.70 C119.70,324.57 120.33,326.40 121.10,326.40 C121.87,326.40 122.75,325.55 123.60,324.70 C124.45,323.85 125.42,321.80 126.20,321.30 C126.98,320.80 127.60,321.83 128.30,321.70 C129.00,321.57 129.63,320.42 130.40,320.50 C131.17,320.58 132.30,321.92 132.90,322.20 C133.50,322.48 133.25,321.65 134.00,322.20 C134.75,322.75 136.42,325.08 137.40,325.50 C138.38,325.92 139.07,325.18 139.90,324.70 C140.73,324.22 141.57,323.02 142.40,322.60 C143.23,322.18 144.20,321.72 144.90,322.20 C145.60,322.68 146.03,324.10 146.60,325.50 C147.17,326.90 147.73,329.55 148.30,330.60 C148.87,331.65 149.45,332.22 150.00,331.80 C150.55,331.38 150.90,328.87 151.60,328.10 C152.30,327.33 153.50,327.77 154.20,327.20 C154.90,326.63 155.10,325.53 155.80,324.70 C156.50,323.87 157.55,322.62 158.40,322.20 C159.25,321.78 159.88,321.50 160.90,322.20 C161.92,322.90 163.48,325.00 164.50,326.40 C165.52,327.80 166.23,329.35 167.00,330.60 C167.77,331.85 168.40,334.05 169.10,333.90 C169.80,333.75 170.42,330.82 171.20,329.70 C171.98,328.58 173.02,327.20 173.80,327.20 C174.58,327.20 175.20,329.83 175.90,329.70 C176.60,329.57 177.38,327.80 178.00,326.40 C178.62,325.00 178.98,322.43 179.60,321.30 C180.22,320.17 181.00,319.45 181.70,319.60 C182.40,319.75 183.02,321.07 183.80,322.20 C184.58,323.33 185.55,325.28 186.40,326.40 C187.25,327.52 187.97,328.07 188.90,328.90 C189.83,329.73 191.25,330.57 192.00,331.40 C192.75,332.23 192.88,333.00 193.40,333.90 C193.92,334.80 194.53,334.07 195.10,336.80 C195.67,339.53 196.23,345.82 196.80,350.30 C197.37,354.78 197.93,361.05 198.50,363.70 C199.07,366.35 199.65,366.62 200.20,366.20 C200.75,365.78 201.25,361.62 201.80,361.20 C202.35,360.78 202.93,361.32 203.50,363.70 C204.07,366.08 204.67,370.55 205.20,375.50 C205.73,380.45 206.03,389.02 206.70,393.40 C207.37,397.78 208.35,401.80 209.20,401.80 C210.05,401.80 210.87,395.77 211.80,393.40 C212.73,391.03 213.83,387.73 214.80,387.60 C215.77,387.47 216.57,391.63 217.60,392.60 C218.63,393.57 220.02,393.32 221.00,393.40 C221.98,393.48 222.67,392.53 223.50,393.10 C224.33,393.67 225.15,395.77 226.00,396.80 C226.85,397.83 227.88,398.73 228.60,399.30 C229.32,399.87 229.75,397.82 230.30,400.20 C230.85,402.58 231.20,409.97 231.90,413.60 C232.60,417.23 233.65,420.18 234.50,422.00 C235.35,423.82 236.17,424.22 237.00,424.50 C237.83,424.78 238.67,422.72 239.50,423.70 C240.33,424.68 241.35,428.08 242.00,430.40 C242.65,432.72 242.58,433.82 243.40,437.60 C244.22,441.38 245.75,448.50 246.90,453.10 C248.05,457.70 249.15,462.33 250.30,465.20 C251.45,468.07 252.65,469.02 253.80,470.30 C254.95,471.58 256.33,471.45 257.20,472.90 C258.07,474.35 258.42,475.98 259.00,479.00 C259.58,482.02 260.07,487.13 260.70,491.00 C261.33,494.87 262.08,502.20 262.80,502.20 C263.52,502.20 264.20,494.87 265.00,491.00 C265.80,487.13 266.73,482.73 267.60,479.00 C268.47,475.27 269.48,472.92 270.20,468.60 C270.92,464.28 271.33,458.45 271.90,453.10 C272.47,447.75 273.03,442.10 273.60,436.50 C274.17,430.90 274.77,424.67 275.30,419.50 C275.83,414.33 276.30,410.17 276.80,405.50 C277.30,400.83 277.82,396.03 278.30,391.50 C278.78,386.97 279.23,382.72 279.70,378.30 C280.17,373.88 280.58,369.37 281.10,365.00 C281.62,360.63 282.23,356.12 282.80,352.10 C283.37,348.08 283.93,344.45 284.50,340.90 C285.07,337.35 285.65,333.62 286.20,330.80 C286.75,327.98 287.15,326.07 287.80,324.00 C288.45,321.93 289.35,319.70 290.10,318.40 C290.85,317.10 291.55,316.28 292.30,316.20 C293.05,316.12 293.85,317.90 294.60,317.90 C295.35,317.90 295.97,316.77 296.80,316.20 C297.63,315.63 298.57,315.07 299.60,314.50 C300.63,313.93 301.85,313.22 303.00,312.80 C304.15,312.38 304.93,312.00 306.50,312.00 C308.07,312.00 310.12,312.55 312.40,312.80 C314.68,313.05 317.87,313.12 320.20,313.50 C322.53,313.88 324.33,314.97 326.40,315.10 C328.47,315.23 330.53,314.68 332.60,314.30 C334.67,313.92 336.73,313.12 338.80,312.80 C340.87,312.48 343.97,312.47 345.00,312.40" stroke="#000000"/>
<path d="M51.70,315.81 L52.17,316.35 L52.66,316.88 L53.17,317.39 L53.70,317.89 L54.25,318.38 L54.81,318.84 L55.39,319.28 L55.98,319.69 L56.59,320.08 L57.20,320.44 L57.83,320.77 L58.47,321.06 L59.11,321.32 L59.76,321.54 L60.42,321.72 L61.09,321.85 L61.75,321.94 L62.42,321.99 L63.09,321.98 L63.77,321.93 L64.44,321.84 L65.11,321.72 L65.79,321.57 L66.46,321.39 L67.14,321.21 L67.81,321.01 L68.49,320.82 L69.17,320.63 L69.85,320.44 L70.53,320.28 L71.21,320.14 L71.89,320.02 L72.57,319.93 L73.25,319.86 L73.94,319.82 L74.62,319.79 L75.30,319.78 L75.99,319.78 L76.67,319.79 L77.36,319.82 L78.04,319.85 L78.73,319.89 L79.42,319.94 L80.11,319.98 L80.79,320.03 L81.48,320.07 L82.17,320.11 L82.86,320.14 L83.56,320.16 L84.25,320.18 L84.94,320.18 L85.63,320.18 L86.33,320.16 L87.02,320.14 L87.71,320.10 L88.41,320.06 L89.10,320.01 L89.80,319.95 L90.49,319.88 L91.18,319.80 L91.88,319.71 L92.57,319.61 L93.26,319.50 L93.95,319.38 L94.65,319.26 L95.34,319.13 L96.03,318.99 L96.72,318.85 L97.40,318.72 L98.09,318.58 L98.78,318.45 L99.46,318.32 L100.15,318.20 L100.83,318.09 L101.52,317.99 L102.20,317.90 L102.88,317.83 L103.56,317.77 L104.23,317.73 L104.91,317.71 L105.58,317.71 L106.26,317.73 L106.93,317.78 L107.60,317.85 L108.27,317.95 L108.93,318.08 L109.60,318.23 L110.26,318.39 L110.93,318.57 L111.59,318.75 L112.25,318.92 L112.92,319.09 L113.59,319.25 L114.25,319.40 L114.92,319.52 L115.59,319.61 L116.27,319.67 L116.94,319.70 L117.62,319.69 L118.30,319.66 L118.99,319.60 L119.67,319.53 L120.36,319.44 L121.05,319.33 L121.74,319.22 L122.43,319.10 L123.12,318.99 L123.82,318.87 L124.51,318.77 L125.21,318.67 L125.91,318.59 L126.60,318.53 L127.30,318.49 L128.00,318.47 L128.69,318.46 L129.39,318.47 L130.09,318.50 L130.78,318.54 L131.48,318.59 L132.18,318.66 L132.87,318.74 L133.57,318.82 L134.26,318.92 L134.96,319.02 L135.65,319.13 L136.34,319.24 L137.03,319.36 L137.72,319.48 L138.41,319.61 L139.10,319.74 L139.79,319.87 L140.47,320.00 L141.16,320.14 L141.84,320.28 L142.52,320.42 L143.21,320.56 L143.89,320.71 L144.56,320.85 L145.24,321.00 L145.92,321.14 L146.59,321.29 L147.27,321.43 L147.94,321.58 L148.61,321.72 L149.28,321.87 L149.95,322.01 L150.61,322.15 L151.28,322.29 L151.94,322.43 L152.61,322.57 L153.27,322.71 L153.94,322.85 L154.60,323.00 L155.27,323.15 L155.94,323.30 L156.60,323.46 L157.27,323.62 L157.95,323.78 L158.62,323.95 L159.30,324.13 L159.98,324.31 L160.66,324.50 L161.34,324.69 L162.03,324.88 L162.72,325.07 L163.41,325.26 L164.10,325.45 L164.79,325.64 L165.48,325.82 L166.17,325.99 L166.86,326.16 L167.56,326.31 L168.25,326.46 L168.94,326.60 L169.63,326.72 L170.32,326.82 L171.00,326.91 L171.69,326.98 L172.37,327.04 L173.05,327.07 L173.73,327.08 L174.41,327.07 L175.08,327.03 L175.75,326.97 L176.42,326.88 L177.08,326.76 L177.74,326.61 L178.39,326.44 L179.04,326.24 L179.69,326.01 L180.34,325.77 L180.99,325.52 L181.63,325.24 L182.27,324.96 L182.91,324.67 L183.55,324.38 L184.20,324.08 L184.84,323.78 L185.48,323.48 L186.13,323.19 L186.78,322.91 L187.43,322.63 L188.08,322.37 L188.74,322.13 L189.40,321.90 L190.06,321.70 L190.73,321.52 L191.40,321.36 L192.08,321.24 L192.76,321.14 L193.45,321.08 L194.14,321.05 L194.84,321.06 L195.52,321.09 L196.21,321.16 L196.89,321.25 L197.57,321.38 L198.23,321.54 L198.89,321.73 L199.53,321.95 L200.16,322.21 L200.77,322.49 L201.37,322.80 L201.95,323.14 L202.53,323.51 L203.09,323.89 L203.64,324.30 L204.18,324.73 L204.71,325.18 L205.23,325.64 L205.75,326.11 L206.26,326.60 L206.77,327.09 L207.28,327.60 L207.78,328.11 L208.28,328.62 L208.79,329.14 L209.29,329.66 L209.80,330.17 L210.31,330.69 L210.82,331.19 L211.34,331.70 L211.86,332.20 L212.38,332.69 L212.90,333.18 L213.43,333.67 L213.95,334.16 L214.48,334.64 L215.00,335.13 L215.52,335.61 L216.04,336.09 L216.56,336.58 L217.07,337.07 L217.58,337.56 L218.08,338.05 L218.58,338.55 L219.07,339.05 L219.55,339.55 L220.02,340.06 L220.49,340.58 L220.94,341.10 L221.39,341.63 L221.82,342.16 L222.25,342.71 L222.67,343.25 L223.08,343.80 L223.49,344.36 L223.88,344.92 L224.27,345.49 L224.66,346.06 L225.03,346.64 L225.40,347.22 L225.76,347.80 L226.12,348.39 L226.47,348.99 L226.81,349.58 L227.15,350.19 L227.48,350.79 L227.81,351.40 L228.14,352.01 L228.46,352.63 L228.77,353.24 L229.08,353.86 L229.39,354.49 L229.70,355.11 L230.00,355.74 L230.29,356.37 L230.59,357.00 L230.88,357.64 L231.17,358.27 L231.46,358.91 L231.74,359.55 L232.03,360.19 L232.31,360.83 L232.59,361.48 L232.87,362.12 L233.15,362.76 L233.43,363.41 L233.71,364.05 L233.99,364.70 L234.27,365.34 L234.55,365.99 L234.83,366.63 L235.11,367.27 L235.39,367.92 L235.68,368.56 L235.96,369.20 L236.25,369.85 L236.54,370.49 L236.82,371.13 L237.11,371.77 L237.40,372.41 L237.69,373.05 L237.99,373.69 L238.28,374.32 L238.57,374.96 L238.86,375.60 L239.16,376.24 L239.45,376.87 L239.75,377.51 L240.04,378.15 L240.34,378.78 L240.63,379.42 L240.93,380.06 L241.22,380.69 L241.52,381.33 L241.81,381.96 L242.11,382.60 L242.40,383.24 L242.70,383.87 L242.99,384.51 L243.28,385.14 L243.58,385.78 L243.87,386.41 L244.16,387.05 L244.46,387.68 L244.75,388.32 L245.04,388.96 L245.33,389.59 L245.62,390.23 L245.90,390.86 L246.19,391.50 L246.48,392.14 L246.76,392.78 L247.04,393.41 L247.33,394.05 L247.61,394.69 L247.89,395.33 L248.17,395.97 L248.44,396.61 L248.72,397.24 L249.00,397.88 L249.27,398.52 L249.54,399.17 L249.82,399.81 L250.09,400.45 L250.36,401.09 L250.63,401.73 L250.90,402.37 L251.16,403.01 L251.43,403.66 L251.70,404.30 L251.96,404.94 L252.22,405.59 L252.49,406.23 L252.75,406.87 L253.01,407.52 L253.27,408.16 L253.53,408.81 L253.79,409.45 L254.05,410.10 L254.31,410.74 L254.57,411.39 L254.83,412.03 L255.08,412.68 L255.34,413.33 L255.60,413.97 L255.85,414.62 L256.11,415.27 L256.36,415.91 L256.61,416.56 L256.87,417.21 L257.12,417.86 L257.37,418.51 L257.63,419.15 L257.88,419.80 L258.13,420.45 L258.38,421.10 L258.64,421.75 L258.89,422.40 L259.14,423.05 L259.39,423.70 L259.64,424.35 L259.89,425.00 L260.14,425.65 L260.40,426.30 L260.65,426.95 L260.90,427.60 L261.15,428.26 L261.40,428.91 L261.65,429.56 L261.90,430.21 L262.15,430.86 L262.41,431.51 L262.66,432.17 L262.91,432.82 L263.16,433.47 L263.42,434.12 L263.67,434.78 L263.92,435.43 L264.18,436.08 L264.43,436.74 L264.68,437.39 L264.94,438.04 L265.19,438.70 L265.45,439.35 L265.71,440.01 L265.96,440.66 L266.22,441.31 L266.48,441.97 L266.74,442.62 L266.99,443.28 L267.25,443.93 L267.51,444.59 L267.78,445.24 L268.04,445.90 L268.30,446.55 L268.56,447.21 L268.83,447.86 L269.09,448.52 L269.36,449.17 L269.62,449.83 L269.89,450.48 L270.16,451.14 L270.43,451.80 L270.70,452.45 L270.97,453.11 L271.24,453.76 L271.52,454.42 L271.79,455.07 L272.07,455.72 L272.35,456.37 L272.64,457.02 L272.92,457.67 L273.21,458.32 L273.50,458.96 L273.80,459.61 L274.10,460.25 L274.40,460.88 L274.71,461.52 L275.02,462.15 L275.34,462.78 L275.66,463.41 L275.98,464.03 L276.32,464.65 L276.65,465.27 L276.99,465.88 L277.34,466.49 L277.69,467.09 L278.05,467.69 L278.42,468.28 L278.79,468.87 L279.17,469.46 L279.55,470.04 L279.95,470.61 L280.35,471.18 L280.75,471.74 L281.17,472.30 L281.59,472.85 L282.03,473.40 L282.47,473.93 L282.91,474.47 L283.37,474.99 L283.84,475.51 L284.31,476.02 L284.80,476.52 L285.29,477.02 L285.80,477.51 L286.31,477.99 L286.84,478.46 L287.37,478.92 L287.92,479.38 L288.48,479.83 L289.05,480.26 L289.62,480.68 L290.20,481.08 L290.79,481.45 L291.38,481.79 L291.97,482.08 L292.55,482.34 L293.14,482.54 L293.71,482.68 L294.28,482.77 L294.84,482.78 L295.39,482.73 L295.92,482.59 L296.43,482.37 L296.93,482.06 L297.41,481.67 L297.87,481.20 L298.31,480.67 L298.72,480.10 L299.11,479.48 L299.48,478.83 L299.82,478.15 L300.14,477.47 L300.43,476.77 L300.71,476.07 L300.96,475.36 L301.19,474.65 L301.40,473.93 L301.60,473.20 L301.79,472.48 L301.96,471.75 L302.13,471.02 L302.29,470.29 L302.44,469.56 L302.59,468.84 L302.74,468.11 L302.89,467.39 L303.03,466.68 L303.18,465.97 L303.32,465.26 L303.47,464.55 L303.61,463.85 L303.76,463.15 L303.90,462.45 L304.04,461.76 L304.18,461.07 L304.32,460.38 L304.46,459.69 L304.60,459.01 L304.74,458.33 L304.87,457.65 L305.01,456.97 L305.14,456.29 L305.28,455.61 L305.41,454.94 L305.55,454.26 L305.68,453.59 L305.81,452.92 L305.94,452.25 L306.07,451.58 L306.20,450.91 L306.33,450.24 L306.46,449.57 L306.58,448.90 L306.71,448.23 L306.84,447.56 L306.96,446.89 L307.08,446.22 L307.21,445.55 L307.33,444.88 L307.45,444.20 L307.57,443.53 L307.69,442.85 L307.80,442.18 L307.92,441.50 L308.04,440.82 L308.15,440.14 L308.27,439.46 L308.38,438.78 L308.49,438.09 L308.60,437.41 L308.71,436.72 L308.82,436.04 L308.93,435.35 L309.04,434.66 L309.15,433.97 L309.25,433.28 L309.36,432.59 L309.46,431.90 L309.57,431.21 L309.67,430.52 L309.77,429.82 L309.87,429.13 L309.97,428.43 L310.07,427.74 L310.17,427.04 L310.27,426.34 L310.36,425.64 L310.46,424.95 L310.55,424.25 L310.65,423.55 L310.74,422.85 L310.83,422.15 L310.93,421.45 L311.02,420.75 L311.11,420.05 L311.19,419.34 L311.28,418.64 L311.37,417.94 L311.45,417.24 L311.54,416.54 L311.62,415.83 L311.71,415.13 L311.79,414.43 L311.87,413.73 L311.95,413.02 L312.03,412.32 L312.11,411.62 L312.19,410.92 L312.27,410.21 L312.34,409.51 L312.42,408.81 L312.50,408.11 L312.57,407.40 L312.64,406.70 L312.72,406.00 L312.79,405.30 L312.86,404.60 L312.93,403.90 L313.00,403.20 L313.07,402.50 L313.13,401.80 L313.20,401.10 L313.27,400.40 L313.33,399.70 L313.40,399.00 L313.46,398.31 L313.53,397.61 L313.59,396.91 L313.66,396.21 L313.72,395.52 L313.78,394.82 L313.84,394.12 L313.91,393.43 L313.97,392.73 L314.03,392.04 L314.10,391.34 L314.16,390.65 L314.22,389.95 L314.28,389.26 L314.35,388.56 L314.41,387.87 L314.47,387.18 L314.54,386.48 L314.60,385.79 L314.66,385.10 L314.73,384.41 L314.79,383.71 L314.86,383.02 L314.93,382.33 L314.99,381.64 L315.06,380.95 L315.13,380.26 L315.20,379.57 L315.27,378.88 L315.34,378.19 L315.41,377.50 L315.48,376.81 L315.55,376.12 L315.63,375.43 L315.70,374.74 L315.78,374.05 L315.86,373.36 L315.94,372.67 L316.02,371.98 L316.10,371.29 L316.18,370.61 L316.27,369.92 L316.35,369.23 L316.44,368.54 L316.53,367.86 L316.62,367.17 L316.71,366.48 L316.80,365.79 L316.90,365.11 L316.99,364.42 L317.09,363.73 L317.19,363.05 L317.29,362.36 L317.40,361.68 L317.50,360.99 L317.61,360.30 L317.72,359.62 L317.84,358.93 L317.95,358.25 L318.07,357.56 L318.19,356.88 L318.31,356.19 L318.43,355.51 L318.56,354.82 L318.68,354.14 L318.82,353.45 L318.95,352.77 L319.09,352.08 L319.22,351.40 L319.36,350.71 L319.51,350.03 L319.66,349.34 L319.80,348.66 L319.96,347.98 L320.11,347.29 L320.27,346.61 L320.43,345.92 L320.60,345.24 L320.76,344.56 L320.93,343.87 L321.11,343.19 L321.28,342.50 L321.46,341.82 L321.65,341.14 L321.83,340.45 L322.02,339.77 L322.22,339.09 L322.41,338.40 L322.61,337.72 L322.82,337.04 L323.02,336.35 L323.23,335.67 L323.45,334.99 L323.67,334.30 L323.89,333.62 L324.12,332.93 L324.35,332.25 L324.58,331.57 L324.82,330.88 L325.06,330.20 L325.31,329.52 L325.56,328.84 L325.82,328.16 L326.08,327.49 L326.35,326.82 L326.63,326.15 L326.91,325.50 L327.21,324.84 L327.51,324.20 L327.82,323.56 L328.14,322.94 L328.47,322.32 L328.80,321.71 L329.15,321.12 L329.52,320.53 L329.89,319.96 L330.27,319.41 L330.67,318.86 L331.08,318.34 L331.50,317.83 L331.94,317.33 L332.39,316.86 L332.86,316.40 L333.34,315.96 L333.84,315.54 L334.36,315.14 L334.89,314.77 L335.43,314.41 L336.00,314.08 L336.58,313.78 L337.19,313.50 L337.81,313.24 L338.45,313.01 L339.11,312.81 L339.79,312.63 L340.49,312.49 L341.22,312.37 L341.96,312.28 L342.73,312.23 L343.52,312.20 L344.33,312.21 L345.17,312.25" stroke="#ff0000"/>
<path d="M51.74,312.32 L52.24,312.87 L52.75,313.40 L53.28,313.91 L53.82,314.40 L54.37,314.88 L54.93,315.34 L55.50,315.78 L56.08,316.20 L56.67,316.60 L57.27,316.98 L57.88,317.34 L58.49,317.68 L59.11,317.99 L59.74,318.28 L60.38,318.54 L61.02,318.79 L61.66,319.00 L62.31,319.19 L62.96,319.36 L63.62,319.49 L64.27,319.60 L64.93,319.68 L65.59,319.74 L66.25,319.76 L66.92,319.75 L67.58,319.71 L68.24,319.64 L68.89,319.54 L69.55,319.40 L70.21,319.24 L70.86,319.03 L71.50,318.80 L72.15,318.53 L72.79,318.24 L73.42,317.92 L74.06,317.57 L74.69,317.21 L75.32,316.84 L75.95,316.45 L76.57,316.05 L77.20,315.65 L77.83,315.24 L78.45,314.84 L79.07,314.43 L79.70,314.04 L80.32,313.66 L80.95,313.28 L81.57,312.93 L82.20,312.60 L82.83,312.28 L83.46,312.00 L84.09,311.74 L84.72,311.52 L85.36,311.33 L86.00,311.18 L86.64,311.08 L87.29,311.02 L87.94,311.01 L88.59,311.04 L89.25,311.13 L89.91,311.26 L90.58,311.43 L91.25,311.63 L91.92,311.86 L92.59,312.11 L93.27,312.38 L93.95,312.67 L94.63,312.97 L95.31,313.28 L95.99,313.58 L96.67,313.89 L97.36,314.18 L98.04,314.46 L98.73,314.73 L99.42,314.97 L100.10,315.19 L100.79,315.37 L101.47,315.52 L102.15,315.63 L102.83,315.69 L103.51,315.70 L104.19,315.66 L104.87,315.58 L105.55,315.46 L106.22,315.30 L106.90,315.12 L107.57,314.92 L108.25,314.71 L108.92,314.49 L109.60,314.27 L110.28,314.06 L110.96,313.86 L111.64,313.68 L112.32,313.51 L113.01,313.36 L113.69,313.23 L114.38,313.12 L115.07,313.02 L115.76,312.93 L116.45,312.87 L117.14,312.81 L117.83,312.77 L118.52,312.75 L119.22,312.74 L119.91,312.74 L120.60,312.75 L121.30,312.77 L121.99,312.81 L122.69,312.85 L123.38,312.91 L124.08,312.97 L124.77,313.05 L125.46,313.13 L126.16,313.22 L126.85,313.32 L127.54,313.43 L128.23,313.54 L128.92,313.66 L129.61,313.78 L130.30,313.91 L130.99,314.05 L131.67,314.19 L132.36,314.33 L133.04,314.48 L133.72,314.63 L134.40,314.78 L135.08,314.94 L135.76,315.10 L136.44,315.26 L137.12,315.42 L137.79,315.59 L138.47,315.76 L139.14,315.94 L139.82,316.11 L140.49,316.29 L141.16,316.47 L141.83,316.65 L142.51,316.83 L143.18,317.02 L143.85,317.20 L144.52,317.39 L145.19,317.58 L145.86,317.77 L146.53,317.95 L147.19,318.14 L147.86,318.33 L148.53,318.52 L149.20,318.71 L149.87,318.90 L150.54,319.09 L151.21,319.28 L151.88,319.47 L152.55,319.65 L153.22,319.84 L153.89,320.03 L154.56,320.21 L155.23,320.39 L155.90,320.57 L156.58,320.75 L157.25,320.93 L157.92,321.10 L158.60,321.28 L159.27,321.45 L159.95,321.61 L160.63,321.78 L161.31,321.94 L161.99,322.10 L162.67,322.25 L163.35,322.41 L164.03,322.56 L164.71,322.70 L165.40,322.84 L166.08,322.98 L166.77,323.11 L167.46,323.24 L168.15,323.36 L168.84,323.48 L169.54,323.60 L170.23,323.71 L170.93,323.81 L171.63,323.91 L172.33,324.01 L173.03,324.10 L173.73,324.18 L174.44,324.25 L175.14,324.32 L175.84,324.37 L176.55,324.42 L177.25,324.45 L177.95,324.47 L178.64,324.48 L179.34,324.47 L180.03,324.45 L180.71,324.41 L181.39,324.36 L182.07,324.29 L182.74,324.20 L183.40,324.09 L184.06,323.95 L184.71,323.80 L185.35,323.63 L185.99,323.43 L186.61,323.21 L187.24,322.98 L187.87,322.74 L188.51,322.49 L189.15,322.25 L189.80,322.01 L190.48,321.78 L191.16,321.57 L191.86,321.37 L192.56,321.18 L193.28,321.01 L194.00,320.85 L194.73,320.71 L195.46,320.59 L196.19,320.49 L196.92,320.41 L197.65,320.34 L198.37,320.31 L199.10,320.29 L199.81,320.30 L200.51,320.33 L201.21,320.39 L201.89,320.48 L202.56,320.58 L203.23,320.72 L203.88,320.87 L204.52,321.05 L205.16,321.25 L205.79,321.47 L206.41,321.72 L207.02,321.98 L207.62,322.26 L208.21,322.56 L208.80,322.88 L209.38,323.21 L209.95,323.56 L210.51,323.93 L211.07,324.31 L211.62,324.71 L212.17,325.12 L212.71,325.54 L213.24,325.98 L213.76,326.43 L214.29,326.89 L214.80,327.36 L215.31,327.83 L215.82,328.32 L216.32,328.82 L216.82,329.32 L217.31,329.84 L217.80,330.36 L218.29,330.88 L218.77,331.41 L219.25,331.94 L219.72,332.48 L220.20,333.02 L220.67,333.56 L221.13,334.11 L221.60,334.65 L222.06,335.20 L222.53,335.75 L222.99,336.29 L223.44,336.84 L223.90,337.39 L224.36,337.94 L224.81,338.49 L225.26,339.04 L225.71,339.59 L226.16,340.14 L226.60,340.69 L227.05,341.24 L227.49,341.79 L227.93,342.34 L228.37,342.89 L228.81,343.44 L229.25,344.00 L229.69,344.55 L230.12,345.10 L230.55,345.66 L230.99,346.21 L231.42,346.76 L231.85,347.32 L232.27,347.87 L232.70,348.43 L233.13,348.99 L233.55,349.54 L233.98,350.10 L234.40,350.65 L234.82,351.21 L235.24,351.77 L235.66,352.33 L236.08,352.88 L236.50,353.44 L236.91,354.00 L237.33,354.56 L237.74,355.12 L238.16,355.67 L238.57,356.23 L238.99,356.79 L239.40,357.35 L239.81,357.91 L240.22,358.47 L240.63,359.03 L241.04,359.59 L241.45,360.15 L241.86,360.71 L242.27,361.27 L242.68,361.84 L243.08,362.40 L243.49,362.96 L243.90,363.52 L244.30,364.08 L244.71,364.64 L245.12,365.21 L245.52,365.77 L245.93,366.33 L246.33,366.89 L246.74,367.46 L247.14,368.02 L247.55,368.58 L247.95,369.15 L248.36,369.71 L248.76,370.27 L249.17,370.84 L249.57,371.40 L249.98,371.96 L250.39,372.53 L250.79,373.09 L251.20,373.65 L251.60,374.22 L252.01,374.78 L252.42,375.35 L252.82,375.91 L253.23,376.47 L253.64,377.04 L254.05,377.60 L254.46,378.17 L254.86,378.73 L255.27,379.29 L255.68,379.86 L256.10,380.42 L256.51,380.99 L256.92,381.55 L257.33,382.12 L257.74,382.68 L258.16,383.24 L258.57,383.81 L258.99,384.37 L259.41,384.94 L259.82,385.50 L260.24,386.07 L260.66,386.63 L261.07,387.20 L261.49,387.76 L261.90,388.33 L262.31,388.90 L262.72,389.47 L263.13,390.04 L263.54,390.61 L263.94,391.19 L264.34,391.76 L264.74,392.34 L265.13,392.92 L265.52,393.50 L265.91,394.09 L266.29,394.67 L266.66,395.26 L267.03,395.86 L267.40,396.45 L267.75,397.05 L268.11,397.65 L268.45,398.26 L268.79,398.86 L269.12,399.48 L269.44,400.09 L269.76,400.71 L270.07,401.33 L270.37,401.96 L270.66,402.59 L270.95,403.23 L271.23,403.86 L271.51,404.50 L271.77,405.15 L272.04,405.79 L272.29,406.44 L272.54,407.10 L272.79,407.75 L273.03,408.41 L273.26,409.07 L273.49,409.73 L273.72,410.39 L273.94,411.06 L274.16,411.73 L274.37,412.40 L274.58,413.07 L274.79,413.74 L274.99,414.42 L275.20,415.09 L275.39,415.77 L275.59,416.45 L275.78,417.12 L275.97,417.80 L276.16,418.48 L276.35,419.17 L276.53,419.85 L276.72,420.53 L276.90,421.21 L277.09,421.89 L277.27,422.57 L277.45,423.26 L277.63,423.94 L277.81,424.62 L278.00,425.30 L278.18,425.98 L278.36,426.66 L278.54,427.34 L278.73,428.02 L278.92,428.69 L279.11,429.37 L279.30,430.04 L279.49,430.72 L279.68,431.39 L279.88,432.06 L280.07,432.73 L280.27,433.40 L280.47,434.06 L280.67,434.73 L280.87,435.40 L281.08,436.06 L281.28,436.73 L281.48,437.39 L281.69,438.05 L281.90,438.72 L282.10,439.38 L282.31,440.04 L282.52,440.70 L282.72,441.37 L282.93,442.03 L283.14,442.69 L283.35,443.35 L283.55,444.01 L283.76,444.68 L283.97,445.34 L284.17,446.00 L284.38,446.66 L284.58,447.33 L284.79,447.99 L284.99,448.66 L285.19,449.32 L285.39,449.99 L285.59,450.66 L285.79,451.33 L285.99,451.99 L286.18,452.66 L286.37,453.34 L286.57,454.01 L286.76,454.68 L286.94,455.36 L287.13,456.04 L287.31,456.71 L287.50,457.39 L287.68,458.08 L287.85,458.76 L288.03,459.44 L288.20,460.13 L288.37,460.82 L288.54,461.51 L288.71,462.20 L288.87,462.89 L289.04,463.58 L289.20,464.27 L289.37,464.96 L289.53,465.65 L289.70,466.34 L289.87,467.03 L290.04,467.72 L290.21,468.40 L290.38,469.09 L290.56,469.77 L290.74,470.45 L290.92,471.12 L291.10,471.80 L291.29,472.47 L291.49,473.14 L291.68,473.80 L291.89,474.46 L292.09,475.11 L292.31,475.76 L292.53,476.41 L292.75,477.05 L292.99,477.69 L293.22,478.32 L293.47,478.94 L293.73,479.56 L293.99,480.17 L294.26,480.78 L294.53,481.38 L294.82,481.99 L295.11,482.59 L295.40,483.20 L295.70,483.81 L296.01,484.42 L296.32,485.05 L296.63,485.68 L296.95,486.33 L297.27,486.98 L297.59,487.66 L297.91,488.35 L298.24,489.05 L298.56,489.78 L298.89,490.53 L299.22,491.30 L299.54,492.10 L299.87,492.89 L300.21,493.67 L300.56,494.42 L300.92,495.11 L301.29,495.72 L301.69,496.25 L302.11,496.66 L302.55,496.94 L303.03,497.07 L303.53,497.05 L304.04,496.90 L304.55,496.67 L305.02,496.39 L305.47,496.06 L305.90,495.70 L306.29,495.30 L306.66,494.87 L307.01,494.40 L307.34,493.90 L307.64,493.37 L307.92,492.82 L308.19,492.23 L308.44,491.63 L308.67,491.00 L308.89,490.36 L309.10,489.70 L309.29,489.02 L309.47,488.32 L309.64,487.62 L309.80,486.91 L309.96,486.19 L310.11,485.46 L310.26,484.73 L310.40,484.00 L310.54,483.26 L310.68,482.53 L310.81,481.80 L310.95,481.08 L311.08,480.35 L311.22,479.63 L311.35,478.90 L311.48,478.18 L311.61,477.46 L311.74,476.74 L311.87,476.02 L311.99,475.30 L312.12,474.59 L312.24,473.88 L312.36,473.16 L312.48,472.45 L312.60,471.74 L312.72,471.03 L312.84,470.32 L312.96,469.61 L313.07,468.91 L313.19,468.20 L313.30,467.50 L313.42,466.80 L313.53,466.09 L313.64,465.39 L313.75,464.69 L313.86,463.99 L313.97,463.29 L314.08,462.60 L314.18,461.90 L314.29,461.20 L314.39,460.51 L314.50,459.81 L314.60,459.12 L314.71,458.43 L314.81,457.73 L314.91,457.04 L315.01,456.35 L315.11,455.66 L315.21,454.97 L315.31,454.28 L315.41,453.59 L315.50,452.90 L315.60,452.22 L315.70,451.53 L315.79,450.84 L315.89,450.16 L315.98,449.47 L316.08,448.79 L316.17,448.10 L316.26,447.42 L316.36,446.73 L316.45,446.05 L316.54,445.36 L316.63,444.68 L316.72,444.00 L316.81,443.31 L316.90,442.63 L316.99,441.95 L317.08,441.26 L317.17,440.58 L317.26,439.90 L317.35,439.22 L317.44,438.53 L317.53,437.85 L317.61,437.17 L317.70,436.49 L317.79,435.80 L317.88,435.12 L317.96,434.44 L318.05,433.76 L318.14,433.07 L318.23,432.39 L318.31,431.71 L318.40,431.02 L318.49,430.34 L318.57,429.65 L318.66,428.97 L318.75,428.29 L318.83,427.60 L318.92,426.91 L319.01,426.23 L319.09,425.54 L319.18,424.86 L319.27,424.17 L319.35,423.48 L319.44,422.79 L319.53,422.10 L319.62,421.42 L319.70,420.73 L319.79,420.04 L319.88,419.35 L319.97,418.65 L320.06,417.96 L320.15,417.27 L320.23,416.58 L320.32,415.89 L320.41,415.19 L320.50,414.50 L320.59,413.81 L320.68,413.11 L320.77,412.42 L320.86,411.73 L320.95,411.03 L321.04,410.34 L321.13,409.64 L321.22,408.95 L321.31,408.25 L321.40,407.55 L321.49,406.86 L321.58,406.16 L321.67,405.46 L321.76,404.77 L321.85,404.07 L321.94,403.37 L322.04,402.67 L322.13,401.98 L322.22,401.28 L322.31,400.58 L322.40,399.88 L322.50,399.18 L322.59,398.48 L322.68,397.79 L322.77,397.09 L322.87,396.39 L322.96,395.69 L323.05,394.99 L323.15,394.29 L323.24,393.59 L323.33,392.89 L323.43,392.19 L323.52,391.50 L323.62,390.80 L323.71,390.10 L323.80,389.40 L323.90,388.70 L323.99,388.00 L324.09,387.30 L324.18,386.60 L324.28,385.90 L324.37,385.20 L324.47,384.50 L324.57,383.81 L324.66,383.11 L324.76,382.41 L324.85,381.71 L324.95,381.01 L325.05,380.31 L325.14,379.62 L325.24,378.92 L325.34,378.22 L325.44,377.52 L325.53,376.83 L325.63,376.13 L325.73,375.43 L325.83,374.74 L325.92,374.04 L326.02,373.35 L326.12,372.65 L326.22,371.95 L326.32,371.26 L326.42,370.56 L326.52,369.87 L326.62,369.18 L326.72,368.48 L326.82,367.79 L326.92,367.10 L327.02,366.40 L327.12,365.71 L327.22,365.02 L327.32,364.33 L327.42,363.63 L327.52,362.94 L327.62,362.25 L327.72,361.56 L327.82,360.87 L327.92,360.18 L328.03,359.50 L328.13,358.81 L328.23,358.12 L328.33,357.43 L328.44,356.75 L328.54,356.06 L328.65,355.37 L328.76,354.69 L328.86,354.00 L328.97,353.32 L329.09,352.64 L329.20,351.95 L329.32,351.27 L329.44,350.59 L329.56,349.91 L329.69,349.23 L329.82,348.55 L329.95,347.87 L330.09,347.19 L330.23,346.51 L330.38,345.84 L330.53,345.16 L330.68,344.49 L330.84,343.81 L331.00,343.14 L331.17,342.46 L331.35,341.79 L331.53,341.12 L331.72,340.45 L331.91,339.78 L332.11,339.11 L332.31,338.44 L332.53,337.77 L332.75,337.11 L332.97,336.44 L333.21,335.77 L333.45,335.11 L333.70,334.45 L333.96,333.78 L334.23,333.12 L334.50,332.46 L334.79,331.80 L335.08,331.14 L335.38,330.49 L335.70,329.84 L336.02,329.19 L336.36,328.56 L336.72,327.94 L337.09,327.33 L337.49,326.75 L337.90,326.19 L338.34,325.65 L338.80,325.13 L339.28,324.65 L339.79,324.20 L340.33,323.79 L340.90,323.41 L341.49,323.07 L342.12,322.78 L342.79,322.54 L343.49,322.34 L344.23,322.20 L345.00,322.11" stroke="#00ff00"/>
<path d="M51.68,331.74 L52.31,331.43 L52.91,331.07 L53.46,330.66 L53.98,330.22 L54.47,329.74 L54.93,329.22 L55.37,328.68 L55.78,328.11 L56.17,327.52 L56.55,326.91 L56.92,326.28 L57.27,325.65 L57.62,325.00 L57.97,324.36 L58.32,323.71 L58.67,323.07 L59.02,322.43 L59.39,321.80 L59.77,321.19 L60.16,320.59 L60.57,320.02 L61.01,319.47 L61.47,318.96 L61.95,318.47 L62.47,318.02 L63.01,317.60 L63.58,317.22 L64.17,316.88 L64.78,316.57 L65.41,316.30 L66.06,316.08 L66.71,315.88 L67.38,315.73 L68.06,315.62 L68.74,315.55 L69.43,315.52 L70.11,315.53 L70.80,315.59 L71.48,315.69 L72.16,315.83 L72.83,316.01 L73.49,316.24 L74.14,316.50 L74.78,316.80 L75.42,317.12 L76.04,317.46 L76.66,317.81 L77.28,318.17 L77.89,318.54 L78.49,318.90 L79.09,319.26 L79.69,319.60 L80.28,319.92 L80.88,320.22 L81.47,320.48 L82.05,320.71 L82.64,320.89 L83.23,321.03 L83.82,321.11 L84.41,321.14 L85.00,321.09 L85.60,320.98 L86.20,320.79 L86.80,320.52 L87.40,320.16 L88.02,319.72 L88.63,319.23 L89.25,318.71 L89.87,318.17 L90.49,317.65 L91.11,317.17 L91.73,316.75 L92.35,316.41 L92.97,316.19 L93.59,316.09 L94.20,316.15 L94.81,316.37 L95.40,316.71 L95.97,317.16 L96.51,317.68 L97.01,318.25 L97.48,318.86 L97.92,319.51 L98.34,320.17 L98.75,320.85 L99.14,321.54 L99.53,322.21 L99.93,322.88 L100.33,323.52 L100.74,324.14 L101.17,324.71 L101.62,325.23 L102.10,325.69 L102.62,326.08 L103.17,326.40 L103.74,326.62 L104.32,326.75 L104.87,326.76 L105.39,326.64 L105.87,326.41 L106.33,326.07 L106.75,325.65 L107.16,325.15 L107.55,324.58 L107.93,323.97 L108.31,323.32 L108.68,322.64 L109.06,321.96 L109.45,321.28 L109.85,320.61 L110.28,319.98 L110.73,319.39 L111.21,318.85 L111.72,318.38 L112.27,317.98 L112.84,317.64 L113.45,317.35 L114.07,317.12 L114.72,316.93 L115.39,316.78 L116.07,316.66 L116.76,316.58 L117.46,316.52 L118.17,316.49 L118.88,316.47 L119.60,316.46 L120.31,316.46 L121.02,316.47 L121.73,316.48 L122.44,316.50 L123.15,316.53 L123.85,316.56 L124.56,316.59 L125.26,316.63 L125.97,316.67 L126.67,316.71 L127.37,316.76 L128.07,316.80 L128.77,316.85 L129.47,316.89 L130.17,316.93 L130.87,316.97 L131.56,317.01 L132.26,317.04 L132.96,317.07 L133.65,317.10 L134.34,317.12 L135.04,317.14 L135.73,317.14 L136.42,317.14 L137.11,317.14 L137.80,317.12 L138.49,317.10 L139.18,317.06 L139.87,317.02 L140.56,316.96 L141.25,316.89 L141.94,316.81 L142.62,316.71 L143.31,316.61 L144.00,316.48 L144.68,316.34 L145.37,316.19 L146.06,316.02 L146.74,315.83 L147.43,315.63 L148.11,315.40 L148.79,315.16 L149.48,314.90 L150.16,314.62 L150.84,314.34 L151.51,314.07 L152.17,313.82 L152.82,313.61 L153.46,313.44 L154.08,313.33 L154.68,313.30 L155.25,313.35 L155.80,313.49 L156.32,313.75 L156.81,314.12 L157.27,314.61 L157.71,315.19 L158.14,315.82 L158.57,316.48 L158.99,317.14 L159.43,317.79 L159.87,318.41 L160.33,319.00 L160.80,319.57 L161.28,320.12 L161.76,320.65 L162.26,321.15 L162.77,321.62 L163.29,322.08 L163.82,322.51 L164.36,322.91 L164.91,323.29 L165.47,323.65 L166.05,323.99 L166.63,324.30 L167.22,324.59 L167.82,324.87 L168.43,325.12 L169.04,325.35 L169.67,325.57 L170.30,325.77 L170.94,325.95 L171.59,326.11 L172.24,326.26 L172.90,326.39 L173.56,326.51 L174.24,326.61 L174.91,326.70 L175.60,326.78 L176.28,326.84 L176.97,326.89 L177.67,326.94 L178.37,326.97 L179.07,326.99 L179.78,327.00 L180.49,327.01 L181.20,327.00 L181.91,326.99 L182.63,326.97 L183.35,326.95 L184.07,326.92 L184.79,326.88 L185.51,326.85 L186.23,326.80 L186.95,326.76 L187.67,326.71 L188.39,326.66 L189.11,326.61 L189.83,326.56 L190.55,326.51 L191.27,326.46 L191.99,326.42 L192.70,326.37 L193.42,326.33 L194.13,326.29 L194.84,326.25 L195.56,326.22 L196.26,326.19 L196.97,326.17 L197.68,326.16 L198.38,326.15 L199.08,326.15 L199.78,326.16 L200.47,326.17 L201.16,326.20 L201.85,326.24 L202.54,326.28 L203.22,326.34 L203.90,326.41 L204.57,326.50 L205.24,326.59 L205.91,326.70 L206.57,326.82 L207.23,326.96 L207.88,327.12 L208.53,327.29 L209.18,327.48 L209.81,327.68 L210.45,327.90 L211.08,328.14 L211.70,328.40 L212.32,328.68 L212.93,328.98 L213.54,329.29 L214.14,329.61 L214.73,329.95 L215.32,330.31 L215.91,330.68 L216.48,331.07 L217.06,331.46 L217.62,331.88 L218.18,332.30 L218.73,332.73 L219.28,333.18 L219.82,333.63 L220.36,334.10 L220.88,334.57 L221.40,335.05 L221.92,335.54 L222.43,336.04 L222.93,336.55 L223.42,337.06 L223.91,337.58 L224.39,338.10 L224.86,338.63 L225.33,339.16 L225.79,339.69 L226.24,340.23 L226.69,340.77 L227.13,341.32 L227.56,341.86 L227.99,342.41 L228.42,342.97 L228.84,343.52 L229.26,344.08 L229.68,344.63 L230.09,345.19 L230.50,345.75 L230.91,346.31 L231.32,346.86 L231.72,347.42 L232.13,347.98 L232.54,348.54 L232.94,349.09 L233.35,349.65 L233.76,350.20 L234.17,350.76 L234.59,351.30 L235.00,351.85 L235.42,352.40 L235.84,352.94 L236.27,353.48 L236.70,354.01 L237.13,354.54 L237.57,355.06 L238.02,355.58 L238.48,356.09 L238.94,356.59 L239.41,357.09 L239.89,357.57 L240.37,358.04 L240.87,358.50 L241.38,358.95 L241.90,359.39 L242.43,359.81 L242.97,360.22 L243.53,360.62 L244.10,360.99 L244.68,361.35 L245.28,361.70 L245.90,362.02 L246.53,362.33 L247.17,362.62 L247.83,362.90 L248.49,363.16 L249.17,363.41 L249.84,363.66 L250.53,363.91 L251.21,364.15 L251.89,364.40 L252.56,364.66 L253.23,364.92 L253.89,365.19 L254.53,365.48 L255.17,365.78 L255.80,366.10 L256.41,366.42 L257.01,366.76 L257.60,367.12 L258.18,367.49 L258.75,367.86 L259.31,368.26 L259.86,368.66 L260.40,369.07 L260.94,369.50 L261.46,369.93 L261.97,370.38 L262.47,370.84 L262.96,371.31 L263.45,371.78 L263.92,372.27 L264.39,372.77 L264.85,373.27 L265.30,373.79 L265.74,374.31 L266.17,374.84 L266.60,375.38 L267.02,375.92 L267.43,376.48 L267.84,377.04 L268.23,377.61 L268.62,378.18 L269.01,378.76 L269.38,379.35 L269.76,379.94 L270.12,380.54 L270.48,381.14 L270.83,381.75 L271.18,382.36 L271.52,382.97 L271.86,383.60 L272.19,384.22 L272.51,384.85 L272.84,385.48 L273.15,386.11 L273.47,386.75 L273.77,387.39 L274.08,388.03 L274.38,388.68 L274.67,389.32 L274.97,389.97 L275.26,390.61 L275.54,391.26 L275.82,391.91 L276.10,392.56 L276.38,393.21 L276.65,393.87 L276.92,394.52 L277.19,395.17 L277.45,395.82 L277.72,396.48 L277.97,397.14 L278.23,397.79 L278.48,398.45 L278.73,399.11 L278.98,399.76 L279.22,400.42 L279.46,401.08 L279.70,401.74 L279.94,402.41 L280.17,403.07 L280.40,403.73 L280.63,404.39 L280.86,405.06 L281.08,405.72 L281.30,406.39 L281.52,407.05 L281.74,407.72 L281.95,408.38 L282.17,409.05 L282.38,409.72 L282.58,410.39 L282.79,411.05 L282.99,411.72 L283.20,412.39 L283.40,413.06 L283.59,413.73 L283.79,414.40 L283.98,415.08 L284.18,415.75 L284.37,416.42 L284.56,417.09 L284.74,417.77 L284.93,418.44 L285.11,419.11 L285.29,419.79 L285.47,420.46 L285.65,421.14 L285.83,421.81 L286.01,422.49 L286.18,423.16 L286.36,423.84 L286.53,424.52 L286.70,425.19 L286.87,425.87 L287.04,426.55 L287.21,427.22 L287.37,427.90 L287.54,428.58 L287.70,429.26 L287.87,429.94 L288.03,430.61 L288.19,431.29 L288.35,431.97 L288.51,432.65 L288.67,433.33 L288.83,434.01 L288.99,434.69 L289.14,435.37 L289.30,436.05 L289.46,436.73 L289.61,437.41 L289.77,438.09 L289.92,438.76 L290.07,439.44 L290.23,440.12 L290.38,440.80 L290.53,441.48 L290.69,442.16 L290.84,442.84 L290.99,443.52 L291.14,444.20 L291.29,444.88 L291.45,445.56 L291.60,446.24 L291.75,446.92 L291.90,447.60 L292.05,448.28 L292.21,448.96 L292.36,449.64 L292.51,450.32 L292.66,450.99 L292.82,451.67 L292.97,452.35 L293.12,453.03 L293.28,453.71 L293.43,454.39 L293.59,455.06 L293.74,455.74 L293.90,456.42 L294.05,457.10 L294.21,457.77 L294.36,458.45 L294.52,459.13 L294.68,459.80 L294.83,460.48 L294.99,461.16 L295.15,461.84 L295.30,462.51 L295.46,463.19 L295.62,463.87 L295.77,464.55 L295.93,465.23 L296.09,465.90 L296.25,466.58 L296.40,467.26 L296.56,467.94 L296.72,468.62 L296.88,469.30 L297.03,469.98 L297.19,470.66 L297.35,471.34 L297.50,472.02 L297.66,472.70 L297.82,473.38 L297.97,474.06 L298.13,474.75 L298.29,475.43 L298.44,476.11 L298.60,476.80 L298.75,477.48 L298.91,478.16 L299.06,478.85 L299.22,479.54 L299.37,480.22 L299.53,480.91 L299.68,481.60 L299.84,482.28 L299.99,482.97 L300.14,483.66 L300.30,484.35 L300.45,485.04 L300.60,485.73 L300.75,486.43 L300.90,487.12 L301.05,487.81 L301.20,488.51 L301.35,489.20 L301.50,489.90 L301.65,490.60 L301.80,491.29 L301.94,491.99 L302.09,492.69 L302.24,493.39 L302.38,494.10 L302.53,494.80 L302.67,495.50 L302.82,496.20 L302.97,496.91 L303.11,497.61 L303.27,498.31 L303.42,499.01 L303.58,499.70 L303.74,500.40 L303.91,501.08 L304.08,501.77 L304.27,502.45 L304.45,503.13 L304.65,503.80 L304.86,504.46 L305.07,505.11 L305.30,505.76 L305.53,506.41 L305.78,507.04 L306.04,507.66 L306.31,508.28 L306.60,508.88 L306.90,509.48 L307.22,510.06 L307.55,510.63 L307.90,511.19 L308.27,511.73 L308.64,512.23 L309.03,512.63 L309.42,512.89 L309.80,512.96 L310.17,512.86 L310.54,512.61 L310.90,512.22 L311.25,511.71 L311.59,511.11 L311.92,510.42 L312.23,509.67 L312.54,508.88 L312.82,508.06 L313.10,507.24 L313.35,506.42 L313.59,505.64 L313.81,504.87 L314.02,504.12 L314.21,503.39 L314.40,502.68 L314.57,501.99 L314.73,501.30 L314.88,500.62 L315.03,499.96 L315.17,499.29 L315.31,498.64 L315.44,497.98 L315.58,497.32 L315.71,496.67 L315.84,496.01 L315.97,495.34 L316.10,494.68 L316.23,494.01 L316.36,493.35 L316.49,492.68 L316.61,492.01 L316.74,491.33 L316.87,490.66 L316.99,489.98 L317.12,489.31 L317.24,488.63 L317.36,487.95 L317.49,487.27 L317.61,486.58 L317.73,485.90 L317.85,485.22 L317.97,484.53 L318.09,483.84 L318.21,483.16 L318.32,482.47 L318.44,481.78 L318.56,481.09 L318.67,480.40 L318.79,479.71 L318.90,479.02 L319.02,478.32 L319.13,477.63 L319.24,476.94 L319.35,476.25 L319.46,475.55 L319.57,474.86 L319.68,474.16 L319.79,473.47 L319.89,472.77 L320.00,472.08 L320.11,471.39 L320.21,470.69 L320.32,470.00 L320.42,469.30 L320.52,468.61 L320.62,467.91 L320.72,467.22 L320.82,466.52 L320.92,465.83 L321.02,465.13 L321.12,464.44 L321.22,463.74 L321.32,463.05 L321.41,462.35 L321.51,461.66 L321.60,460.96 L321.70,460.27 L321.79,459.57 L321.88,458.88 L321.98,458.18 L322.07,457.49 L322.16,456.79 L322.25,456.10 L322.34,455.40 L322.43,454.71 L322.52,454.01 L322.61,453.32 L322.70,452.62 L322.78,451.92 L322.87,451.23 L322.96,450.53 L323.04,449.84 L323.13,449.14 L323.21,448.45 L323.30,447.75 L323.38,447.06 L323.47,446.36 L323.55,445.67 L323.63,444.97 L323.71,444.28 L323.80,443.58 L323.88,442.88 L323.96,442.19 L324.04,441.49 L324.12,440.80 L324.20,440.10 L324.28,439.41 L324.36,438.71 L324.44,438.02 L324.51,437.32 L324.59,436.62 L324.67,435.93 L324.75,435.23 L324.82,434.54 L324.90,433.84 L324.98,433.15 L325.05,432.45 L325.13,431.76 L325.21,431.06 L325.28,430.37 L325.36,429.67 L325.43,428.97 L325.51,428.28 L325.58,427.58 L325.65,426.89 L325.73,426.19 L325.80,425.50 L325.88,424.80 L325.95,424.11 L326.02,423.41 L326.10,422.72 L326.17,422.02 L326.24,421.33 L326.31,420.63 L326.39,419.94 L326.46,419.24 L326.53,418.55 L326.60,417.85 L326.67,417.16 L326.75,416.46 L326.82,415.77 L326.89,415.07 L326.96,414.38 L327.03,413.68 L327.11,412.99 L327.18,412.29 L327.25,411.60 L327.32,410.90 L327.39,410.21 L327.46,409.51 L327.53,408.82 L327.61,408.12 L327.68,407.43 L327.75,406.73 L327.82,406.04 L327.89,405.34 L327.96,404.65 L328.04,403.96 L328.11,403.26 L328.18,402.57 L328.25,401.87 L328.32,401.18 L328.40,400.48 L328.47,399.79 L328.54,399.10 L328.61,398.40 L328.69,397.71 L328.76,397.01 L328.83,396.32 L328.91,395.63 L328.98,394.93 L329.05,394.24 L329.13,393.54 L329.20,392.85 L329.28,392.16 L329.35,391.46 L329.43,390.77 L329.50,390.08 L329.58,389.38 L329.65,388.69 L329.73,388.00 L329.80,387.30 L329.88,386.61 L329.96,385.92 L330.03,385.22 L330.11,384.53 L330.19,383.84 L330.27,383.15 L330.34,382.45 L330.42,381.76 L330.50,381.07 L330.58,380.38 L330.66,379.68 L330.75,378.99 L330.83,378.30 L330.91,377.61 L331.00,376.91 L331.08,376.22 L331.17,375.53 L331.25,374.84 L331.34,374.14 L331.43,373.45 L331.52,372.76 L331.62,372.07 L331.71,371.38 L331.80,370.68 L331.90,369.99 L332.00,369.30 L332.10,368.61 L332.20,367.91 L332.30,367.22 L332.41,366.53 L332.52,365.84 L332.62,365.15 L332.73,364.45 L332.85,363.76 L332.96,363.07 L333.08,362.38 L333.20,361.68 L333.32,360.99 L333.44,360.30 L333.57,359.61 L333.70,358.91 L333.83,358.22 L333.96,357.53 L334.10,356.84 L334.23,356.14 L334.38,355.45 L334.52,354.76 L334.67,354.07 L334.82,353.37 L334.97,352.68 L335.12,351.99 L335.28,351.29 L335.44,350.60 L335.61,349.91 L335.78,349.21 L335.95,348.52 L336.12,347.83 L336.30,347.13 L336.48,346.44 L336.67,345.75 L336.86,345.06 L337.06,344.38 L337.28,343.70 L337.51,343.05 L337.77,342.40 L338.04,341.78 L338.34,341.18 L338.67,340.60 L339.03,340.05 L339.43,339.54 L339.86,339.05 L340.33,338.61 L340.84,338.20 L341.40,337.84 L342.01,337.52 L342.67,337.25 L343.38,337.04 L344.15,336.87 L344.98,336.77" stroke="#0000ff"/>
<path d="M51.74,317.76 L52.28,317.15 L52.83,316.58 L53.39,316.06 L53.97,315.58 L54.55,315.14 L55.15,314.74 L55.75,314.38 L56.37,314.05 L56.99,313.76 L57.62,313.49 L58.26,313.26 L58.90,313.05 L59.55,312.87 L60.21,312.70 L60.87,312.56 L61.54,312.44 L62.21,312.33 L62.89,312.24 L63.57,312.16 L64.25,312.08 L64.94,312.02 L65.63,311.96 L66.32,311.91 L67.01,311.85 L67.70,311.80 L68.39,311.74 L69.08,311.68 L69.77,311.61 L70.46,311.53 L71.15,311.44 L71.84,311.34 L72.52,311.23 L73.21,311.10 L73.89,310.97 L74.57,310.82 L75.24,310.67 L75.92,310.50 L76.60,310.33 L77.27,310.15 L77.95,309.96 L78.62,309.77 L79.29,309.57 L79.97,309.37 L80.64,309.15 L81.31,308.94 L81.98,308.72 L82.66,308.50 L83.33,308.28 L84.00,308.05 L84.67,307.85 L85.34,307.66 L86.01,307.51 L86.67,307.40 L87.32,307.36 L87.96,307.38 L88.59,307.48 L89.21,307.65 L89.83,307.87 L90.44,308.14 L91.06,308.43 L91.67,308.73 L92.29,309.04 L92.90,309.35 L93.52,309.67 L94.15,309.99 L94.77,310.31 L95.40,310.63 L96.03,310.94 L96.66,311.26 L97.29,311.57 L97.93,311.87 L98.56,312.17 L99.21,312.46 L99.85,312.74 L100.50,313.01 L101.15,313.27 L101.80,313.51 L102.45,313.74 L103.11,313.95 L103.77,314.15 L104.44,314.33 L105.11,314.49 L105.78,314.62 L106.45,314.74 L107.13,314.83 L107.81,314.90 L108.50,314.94 L109.18,314.96 L109.88,314.94 L110.57,314.90 L111.27,314.82 L111.97,314.72 L112.68,314.59 L113.39,314.44 L114.10,314.27 L114.81,314.08 L115.52,313.89 L116.23,313.69 L116.94,313.49 L117.65,313.29 L118.35,313.09 L119.06,312.91 L119.76,312.74 L120.46,312.58 L121.15,312.45 L121.84,312.34 L122.52,312.26 L123.20,312.21 L123.87,312.20 L124.53,312.23 L125.18,312.31 L125.83,312.43 L126.47,312.60 L127.10,312.81 L127.72,313.05 L128.34,313.34 L128.95,313.65 L129.55,313.99 L130.15,314.34 L130.75,314.72 L131.34,315.11 L131.92,315.52 L132.50,315.92 L133.08,316.34 L133.66,316.75 L134.23,317.16 L134.81,317.56 L135.39,317.96 L135.96,318.35 L136.55,318.73 L137.13,319.09 L137.72,319.43 L138.32,319.76 L138.92,320.06 L139.54,320.34 L140.16,320.59 L140.79,320.82 L141.43,321.01 L142.09,321.16 L142.76,321.28 L143.43,321.37 L144.12,321.43 L144.82,321.47 L145.53,321.50 L146.24,321.52 L146.95,321.55 L147.66,321.59 L148.37,321.64 L149.07,321.72 L149.77,321.83 L150.46,321.98 L151.14,322.18 L151.82,322.42 L152.48,322.70 L153.13,323.02 L153.77,323.36 L154.40,323.71 L155.03,324.08 L155.65,324.45 L156.27,324.81 L156.88,325.16 L157.48,325.49 L158.09,325.79 L158.68,326.06 L159.28,326.28 L159.87,326.46 L160.47,326.57 L161.06,326.63 L161.65,326.61 L162.25,326.51 L162.84,326.34 L163.44,326.11 L164.04,325.83 L164.64,325.51 L165.25,325.16 L165.86,324.79 L166.48,324.42 L167.10,324.05 L167.72,323.71 L168.35,323.38 L168.99,323.10 L169.63,322.87 L170.29,322.69 L170.95,322.59 L171.61,322.55 L172.28,322.57 L172.96,322.65 L173.65,322.78 L174.33,322.94 L175.03,323.14 L175.72,323.37 L176.42,323.61 L177.11,323.87 L177.81,324.13 L178.51,324.40 L179.21,324.66 L179.90,324.90 L180.59,325.13 L181.28,325.32 L181.97,325.49 L182.65,325.61 L183.33,325.69 L184.00,325.71 L184.66,325.67 L185.32,325.58 L185.97,325.44 L186.61,325.24 L187.25,325.00 L187.88,324.72 L188.50,324.40 L189.12,324.05 L189.73,323.66 L190.33,323.24 L190.93,322.80 L191.52,322.34 L192.10,321.85 L192.67,321.36 L193.24,320.85 L193.81,320.35 L194.37,319.87 L194.92,319.41 L195.48,318.98 L196.03,318.59 L196.59,318.25 L197.15,317.98 L197.70,317.77 L198.27,317.64 L198.83,317.60 L199.40,317.65 L199.98,317.77 L200.56,317.97 L201.14,318.22 L201.72,318.54 L202.31,318.90 L202.90,319.30 L203.50,319.73 L204.09,320.18 L204.69,320.65 L205.29,321.12 L205.89,321.60 L206.49,322.06 L207.09,322.51 L207.69,322.94 L208.29,323.35 L208.89,323.74 L209.49,324.11 L210.09,324.46 L210.69,324.80 L211.29,325.13 L211.89,325.44 L212.49,325.75 L213.10,326.05 L213.70,326.34 L214.30,326.63 L214.90,326.92 L215.50,327.20 L216.10,327.48 L216.71,327.77 L217.31,328.06 L217.91,328.36 L218.51,328.66 L219.12,328.97 L219.72,329.29 L220.32,329.62 L220.93,329.97 L221.53,330.33 L222.13,330.70 L222.73,331.09 L223.32,331.48 L223.91,331.89 L224.49,332.31 L225.06,332.74 L225.63,333.18 L226.19,333.64 L226.74,334.10 L227.28,334.58 L227.81,335.07 L228.32,335.56 L228.82,336.07 L229.31,336.58 L229.78,337.11 L230.23,337.65 L230.67,338.19 L231.09,338.75 L231.50,339.31 L231.89,339.88 L232.27,340.46 L232.63,341.04 L232.99,341.64 L233.33,342.24 L233.66,342.84 L233.97,343.46 L234.28,344.08 L234.58,344.70 L234.87,345.33 L235.14,345.97 L235.42,346.61 L235.68,347.25 L235.94,347.90 L236.19,348.55 L236.43,349.20 L236.67,349.86 L236.91,350.52 L237.14,351.18 L237.37,351.85 L237.59,352.51 L237.81,353.18 L238.03,353.85 L238.25,354.52 L238.47,355.19 L238.69,355.86 L238.91,356.53 L239.14,357.20 L239.36,357.86 L239.59,358.53 L239.82,359.19 L240.05,359.86 L240.29,360.52 L240.53,361.17 L240.78,361.83 L241.03,362.48 L241.29,363.13 L241.55,363.77 L241.83,364.41 L242.10,365.05 L242.39,365.69 L242.68,366.32 L242.97,366.95 L243.27,367.57 L243.58,368.19 L243.90,368.81 L244.22,369.42 L244.55,370.03 L244.89,370.63 L245.23,371.23 L245.58,371.83 L245.93,372.42 L246.30,373.01 L246.67,373.59 L247.05,374.17 L247.43,374.75 L247.83,375.31 L248.23,375.88 L248.64,376.44 L249.06,377.00 L249.48,377.55 L249.91,378.09 L250.35,378.63 L250.80,379.17 L251.25,379.70 L251.71,380.23 L252.17,380.76 L252.64,381.29 L253.11,381.81 L253.59,382.33 L254.06,382.84 L254.55,383.36 L255.03,383.87 L255.52,384.38 L256.01,384.89 L256.49,385.40 L256.98,385.91 L257.47,386.42 L257.96,386.93 L258.45,387.45 L258.94,387.96 L259.43,388.47 L259.91,388.98 L260.40,389.50 L260.87,390.01 L261.35,390.53 L261.82,391.05 L262.29,391.58 L262.75,392.10 L263.21,392.63 L263.66,393.17 L264.11,393.70 L264.55,394.24 L264.98,394.79 L265.41,395.34 L265.82,395.89 L266.23,396.45 L266.63,397.02 L267.03,397.59 L267.41,398.16 L267.79,398.74 L268.16,399.33 L268.52,399.91 L268.88,400.51 L269.23,401.10 L269.57,401.71 L269.91,402.31 L270.24,402.92 L270.56,403.53 L270.88,404.15 L271.19,404.77 L271.50,405.39 L271.81,406.02 L272.11,406.65 L272.40,407.28 L272.69,407.92 L272.98,408.56 L273.26,409.20 L273.54,409.85 L273.81,410.49 L274.09,411.14 L274.35,411.79 L274.62,412.45 L274.88,413.10 L275.14,413.76 L275.40,414.42 L275.65,415.08 L275.90,415.75 L276.15,416.41 L276.39,417.08 L276.63,417.74 L276.87,418.41 L277.11,419.08 L277.35,419.75 L277.58,420.42 L277.81,421.10 L278.04,421.77 L278.26,422.44 L278.49,423.12 L278.71,423.79 L278.93,424.46 L279.15,425.14 L279.37,425.81 L279.59,426.49 L279.80,427.16 L280.02,427.83 L280.23,428.50 L280.44,429.18 L280.65,429.85 L280.86,430.52 L281.07,431.19 L281.28,431.86 L281.49,432.52 L281.69,433.19 L281.90,433.85 L282.10,434.52 L282.31,435.18 L282.51,435.84 L282.72,436.50 L282.92,437.15 L283.13,437.81 L283.33,438.46 L283.54,439.11 L283.74,439.76 L283.94,440.41 L284.14,441.06 L284.35,441.71 L284.55,442.36 L284.74,443.01 L284.94,443.66 L285.14,444.31 L285.34,444.96 L285.53,445.61 L285.73,446.26 L285.92,446.92 L286.11,447.57 L286.30,448.23 L286.49,448.88 L286.68,449.54 L286.86,450.20 L287.05,450.87 L287.23,451.53 L287.41,452.20 L287.59,452.87 L287.76,453.54 L287.94,454.22 L288.11,454.90 L288.28,455.58 L288.45,456.27 L288.61,456.96 L288.78,457.66 L288.94,458.36 L289.10,459.06 L289.25,459.77 L289.40,460.48 L289.56,461.19 L289.71,461.91 L289.86,462.63 L290.01,463.35 L290.16,464.08 L290.32,464.80 L290.47,465.52 L290.63,466.24 L290.79,466.96 L290.96,467.68 L291.13,468.40 L291.30,469.12 L291.48,469.83 L291.66,470.53 L291.86,471.23 L292.05,471.93 L292.26,472.62 L292.47,473.31 L292.69,473.99 L292.92,474.66 L293.16,475.32 L293.41,475.98 L293.67,476.62 L293.94,477.26 L294.22,477.89 L294.52,478.50 L294.82,479.11 L295.15,479.70 L295.48,480.28 L295.83,480.85 L296.19,481.41 L296.57,481.95 L296.97,482.48 L297.38,482.99 L297.81,483.48 L298.25,483.96 L298.72,484.43 L299.20,484.87 L299.70,485.30 L300.22,485.71 L300.76,486.10 L301.32,486.47 L301.89,486.80 L302.47,487.08 L303.05,487.30 L303.62,487.44 L304.18,487.50 L304.72,487.46 L305.24,487.31 L305.72,487.03 L306.18,486.63 L306.60,486.12 L306.99,485.51 L307.35,484.82 L307.69,484.07 L308.00,483.27 L308.29,482.45 L308.56,481.63 L308.81,480.81 L309.05,480.01 L309.28,479.23 L309.49,478.48 L309.69,477.74 L309.87,477.02 L310.05,476.32 L310.22,475.63 L310.38,474.95 L310.53,474.28 L310.68,473.61 L310.82,472.96 L310.96,472.31 L311.10,471.67 L311.24,471.02 L311.38,470.38 L311.51,469.73 L311.65,469.08 L311.79,468.43 L311.94,467.78 L312.08,467.12 L312.23,466.45 L312.38,465.79 L312.53,465.12 L312.68,464.45 L312.83,463.78 L312.98,463.10 L313.13,462.42 L313.28,461.74 L313.43,461.06 L313.58,460.37 L313.73,459.69 L313.88,459.00 L314.02,458.31 L314.16,457.62 L314.30,456.93 L314.44,456.24 L314.58,455.55 L314.71,454.86 L314.84,454.17 L314.97,453.48 L315.10,452.78 L315.22,452.09 L315.34,451.40 L315.45,450.70 L315.57,450.01 L315.68,449.31 L315.79,448.62 L315.90,447.93 L316.00,447.23 L316.11,446.54 L316.21,445.84 L316.31,445.15 L316.40,444.45 L316.50,443.76 L316.60,443.06 L316.69,442.37 L316.78,441.67 L316.87,440.97 L316.96,440.28 L317.05,439.58 L317.14,438.89 L317.23,438.19 L317.31,437.50 L317.40,436.80 L317.49,436.10 L317.57,435.41 L317.65,434.71 L317.74,434.02 L317.82,433.32 L317.91,432.63 L317.99,431.93 L318.08,431.24 L318.16,430.54 L318.25,429.85 L318.33,429.15 L318.42,428.46 L318.50,427.76 L318.59,427.07 L318.68,426.37 L318.77,425.68 L318.86,424.99 L318.95,424.29 L319.04,423.60 L319.13,422.91 L319.23,422.22 L319.32,421.52 L319.42,420.83 L319.52,420.14 L319.62,419.45 L319.72,418.76 L319.82,418.07 L319.92,417.38 L320.03,416.69 L320.13,416.00 L320.24,415.31 L320.35,414.62 L320.46,413.93 L320.57,413.24 L320.68,412.55 L320.79,411.86 L320.90,411.17 L321.01,410.48 L321.13,409.79 L321.24,409.10 L321.36,408.42 L321.48,407.73 L321.59,407.04 L321.71,406.35 L321.83,405.66 L321.95,404.98 L322.07,404.29 L322.20,403.60 L322.32,402.92 L322.44,402.23 L322.57,401.54 L322.69,400.86 L322.82,400.17 L322.94,399.48 L323.07,398.80 L323.20,398.11 L323.33,397.42 L323.46,396.74 L323.59,396.05 L323.72,395.37 L323.85,394.68 L323.98,393.99 L324.11,393.31 L324.24,392.62 L324.37,391.94 L324.51,391.25 L324.64,390.57 L324.77,389.88 L324.91,389.19 L325.04,388.51 L325.18,387.82 L325.31,387.14 L325.45,386.45 L325.59,385.77 L325.72,385.08 L325.86,384.40 L326.00,383.71 L326.13,383.03 L326.27,382.34 L326.41,381.65 L326.55,380.97 L326.69,380.28 L326.82,379.60 L326.96,378.91 L327.10,378.23 L327.24,377.54 L327.38,376.86 L327.52,376.17 L327.66,375.48 L327.80,374.80 L327.93,374.11 L328.07,373.43 L328.21,372.74 L328.35,372.05 L328.49,371.37 L328.63,370.68 L328.77,369.99 L328.91,369.31 L329.05,368.62 L329.18,367.93 L329.32,367.25 L329.46,366.56 L329.60,365.87 L329.74,365.18 L329.87,364.50 L330.01,363.81 L330.15,363.12 L330.28,362.43 L330.42,361.74 L330.56,361.06 L330.69,360.37 L330.83,359.68 L330.96,358.99 L331.10,358.30 L331.23,357.61 L331.37,356.92 L331.50,356.23 L331.64,355.55 L331.78,354.86 L331.92,354.17 L332.06,353.48 L332.21,352.80 L332.35,352.11 L332.50,351.43 L332.66,350.74 L332.81,350.06 L332.97,349.38 L333.14,348.70 L333.31,348.02 L333.48,347.35 L333.66,346.67 L333.84,346.00 L334.03,345.33 L334.23,344.66 L334.43,344.00 L334.64,343.33 L334.85,342.67 L335.08,342.01 L335.31,341.36 L335.54,340.70 L335.79,340.05 L336.05,339.41 L336.31,338.76 L336.58,338.12 L336.87,337.49 L337.16,336.85 L337.46,336.22 L337.77,335.59 L338.10,334.97 L338.43,334.35 L338.78,333.74 L339.15,333.15 L339.54,332.57 L339.96,332.03 L340.42,331.53 L340.91,331.08 L341.46,330.68 L342.05,330.35 L342.70,330.08 L343.41,329.90 L344.19,329.80 L345.04,329.80" stroke="#00ffff"/>
</g>
<rect x="51.25" y="305.90" width="293.40" height="234.60" fill="none" stroke="#000" stroke-width="1.70"/>
<path d="M44.25,313.00H51.25M44.25,350.90H51.25M44.25,388.80H51.25M44.25,426.70H51.25M44.25,464.60H51.25M44.25,502.50H51.25M44.25,540.40H51.25M47.25,331.95H51.25M47.25,369.85H51.25M47.25,407.75H51.25M47.25,445.65H51.25M47.25,483.55H51.25M47.25,521.45H51.25M60.71,540.50V547.50M108.04,540.50V547.50M155.36,540.50V547.50M202.68,540.50V547.50M250.00,540.50V547.50M297.33,540.50V547.50M344.65,540.50V547.50M84.38,540.50V544.50M131.70,540.50V544.50M179.02,540.50V544.50M226.34,540.50V544.50M273.67,540.50V544.50M320.99,540.50V544.50" stroke="#000" stroke-width="1.70" fill="none"/>
<text class="s t" transform="translate(43.10,316.30) scale(1.040,1)" font-size="12.90" text-anchor="end">0.0</text>
<text class="s t" transform="translate(43.10,354.20) scale(1.040,1)" font-size="12.90" text-anchor="end">-0.1</text>
<text class="s t" transform="translate(43.10,392.10) scale(1.040,1)" font-size="12.90" text-anchor="end">-0.2</text>
<text class="s t" transform="translate(43.10,430.00) scale(1.040,1)" font-size="12.90" text-anchor="end">-0.3</text>
<text class="s t" transform="translate(43.10,467.90) scale(1.040,1)" font-size="12.90" text-anchor="end">-0.4</text>
<text class="s t" transform="translate(43.10,505.80) scale(1.040,1)" font-size="12.90" text-anchor="end">-0.5</text>
<text class="s t" transform="translate(43.10,543.70) scale(1.040,1)" font-size="12.90" text-anchor="end">-0.6</text>
<text class="s t" transform="translate(60.71,558.10) scale(1.040,1)" font-size="12.90" text-anchor="middle">100</text>
<text class="s t" transform="translate(108.04,558.10) scale(1.040,1)" font-size="12.90" text-anchor="middle">200</text>
<text class="s t" transform="translate(155.36,558.10) scale(1.040,1)" font-size="12.90" text-anchor="middle">300</text>
<text class="s t" transform="translate(202.68,558.10) scale(1.040,1)" font-size="12.90" text-anchor="middle">400</text>
<text class="s t" transform="translate(250.00,558.10) scale(1.040,1)" font-size="12.90" text-anchor="middle">500</text>
<text class="s t" transform="translate(297.33,558.10) scale(1.040,1)" font-size="12.90" text-anchor="middle">600</text>
<text class="s t" transform="translate(344.65,558.10) scale(1.040,1)" font-size="12.90" text-anchor="middle">700</text>
<rect x="56.30" y="454.75" width="4.10" height="2.10" fill="#000000"/>
<rect x="61.20" y="454.75" width="4.10" height="2.10" fill="#000000"/>
<rect x="66.10" y="454.75" width="4.10" height="2.10" fill="#000000"/>
<rect x="71.00" y="454.75" width="4.10" height="2.10" fill="#000000"/>
<text class="s" transform="translate(75.20,459.70) scale(1.040,1)" font-size="14.0" fill="#000000" style="stroke:#000000">C-RTV/W</text>
<rect x="56.30" y="473.43" width="4.10" height="2.10" fill="#ff0000"/>
<rect x="61.20" y="473.43" width="4.10" height="2.10" fill="#ff0000"/>
<rect x="66.10" y="473.43" width="4.10" height="2.10" fill="#ff0000"/>
<rect x="71.00" y="473.43" width="4.10" height="2.10" fill="#ff0000"/>
<text class="s" transform="translate(75.20,478.38) scale(1.040,1)" font-size="14.0" fill="#ff0000" style="stroke:#ff0000">C-RTV/WMMQ-1%</text>
<rect x="56.30" y="492.11" width="4.10" height="2.10" fill="#00ff00"/>
<rect x="61.20" y="492.11" width="4.10" height="2.10" fill="#00ff00"/>
<rect x="66.10" y="492.11" width="4.10" height="2.10" fill="#00ff00"/>
<rect x="71.00" y="492.11" width="4.10" height="2.10" fill="#00ff00"/>
<text class="s" transform="translate(75.20,497.06) scale(1.040,1)" font-size="14.0" fill="#00ff00" style="stroke:#00ff00">C-RTV/WMMQ-3%</text>
<rect x="56.30" y="510.79" width="4.10" height="2.10" fill="#0000ff"/>
<rect x="61.20" y="510.79" width="4.10" height="2.10" fill="#0000ff"/>
<rect x="66.10" y="510.79" width="4.10" height="2.10" fill="#0000ff"/>
<rect x="71.00" y="510.79" width="4.10" height="2.10" fill="#0000ff"/>
<text class="s" transform="translate(75.20,515.74) scale(1.040,1)" font-size="14.0" fill="#0000ff" style="stroke:#0000ff">C-RTV/WMMQ-5%</text>
<rect x="56.30" y="529.47" width="4.10" height="2.10" fill="#00ffff"/>
<rect x="61.20" y="529.47" width="4.10" height="2.10" fill="#00ffff"/>
<rect x="66.10" y="529.47" width="4.10" height="2.10" fill="#00ffff"/>
<rect x="71.00" y="529.47" width="4.10" height="2.10" fill="#00ffff"/>
<text class="s" transform="translate(75.20,534.42) scale(1.040,1)" font-size="14.0" fill="#00ffff" style="stroke:#00ffff">C-RTV/WMMQ-7%</text>

<text class="r" x="153.1" y="272.6" font-size="15">Temperature (<tspan font-size="10.5" font-weight="normal" dy="-6.8">o</tspan><tspan dy="6.8">C)</tspan></text>
<text class="r" transform="translate(140.8,576.8) scale(1.016,1)" font-size="15">Temperature (<tspan font-size="10.5" font-weight="normal" dy="-6.8">o</tspan><tspan dy="6.8">C)</tspan></text>
<text class="r" transform="translate(14.0,146.8) rotate(-90)" x="0" y="0" font-size="15.2">Mass (%)</text>
<text class="s" x="23.7" y="268.8" font-size="18">(a)</text>
<text class="s" x="24.0" y="573.5" font-size="18">(b)</text>
<text transform="translate(15.9,513.6) rotate(-90)" x="0" y="0" font-size="15.2"><tspan class="s">Mass loss rate/ </tspan><tspan class="r">% (<tspan font-size="10.5" font-weight="normal" dy="-8.5">o</tspan><tspan dy="8.5">C)</tspan><tspan font-size="9.2" dx="1.0" dy="-10.3">-1</tspan></tspan></text>

</svg></body></html>
